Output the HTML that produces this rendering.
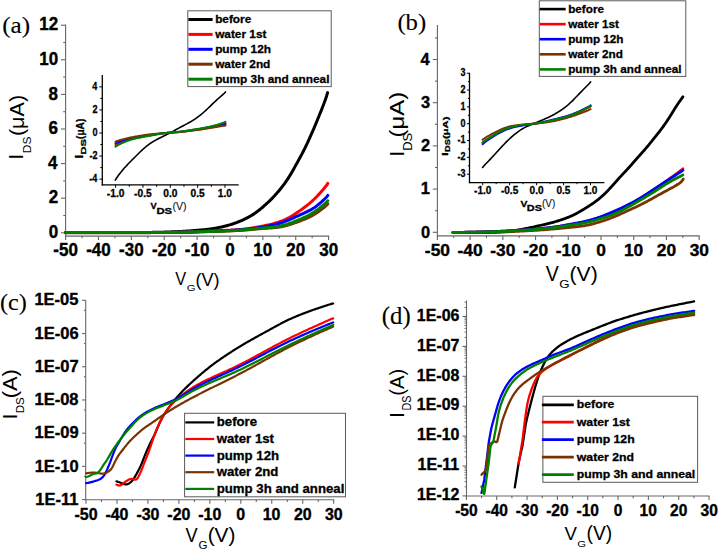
<!DOCTYPE html>
<html><head><meta charset="utf-8"><style>
html,body{margin:0;padding:0;background:#fff;width:718px;height:549px;overflow:hidden}
svg{display:block}
</style></head><body>
<svg width="718" height="549" viewBox="0 0 718 549">
<rect width="718" height="549" fill="#fff"/>
<line x1="65.6" y1="24.6" x2="65.6" y2="236.6" stroke="#666666" stroke-width="1.1"/>
<line x1="65.1" y1="236.1" x2="329.1" y2="236.1" stroke="#666666" stroke-width="1.1"/>
<line x1="61" y1="232.8" x2="65.6" y2="232.8" stroke="#666666" stroke-width="1.1"/>
<line x1="63.2" y1="215.5" x2="65.6" y2="215.5" stroke="#666666" stroke-width="1.1"/>
<line x1="61" y1="198.2" x2="65.6" y2="198.2" stroke="#666666" stroke-width="1.1"/>
<line x1="63.2" y1="180.9" x2="65.6" y2="180.9" stroke="#666666" stroke-width="1.1"/>
<line x1="61" y1="163.6" x2="65.6" y2="163.6" stroke="#666666" stroke-width="1.1"/>
<line x1="63.2" y1="146.3" x2="65.6" y2="146.3" stroke="#666666" stroke-width="1.1"/>
<line x1="61" y1="129" x2="65.6" y2="129" stroke="#666666" stroke-width="1.1"/>
<line x1="63.2" y1="111.7" x2="65.6" y2="111.7" stroke="#666666" stroke-width="1.1"/>
<line x1="61" y1="94.4" x2="65.6" y2="94.4" stroke="#666666" stroke-width="1.1"/>
<line x1="63.2" y1="77.1" x2="65.6" y2="77.1" stroke="#666666" stroke-width="1.1"/>
<line x1="61" y1="59.8" x2="65.6" y2="59.8" stroke="#666666" stroke-width="1.1"/>
<line x1="63.2" y1="42.5" x2="65.6" y2="42.5" stroke="#666666" stroke-width="1.1"/>
<line x1="61" y1="25.2" x2="65.6" y2="25.2" stroke="#666666" stroke-width="1.1"/>
<line x1="65.6" y1="236.1" x2="65.6" y2="240.1" stroke="#666666" stroke-width="1.1"/>
<line x1="82.04" y1="236.1" x2="82.04" y2="238.3" stroke="#666666" stroke-width="1.1"/>
<line x1="98.47" y1="236.1" x2="98.47" y2="240.1" stroke="#666666" stroke-width="1.1"/>
<line x1="114.91" y1="236.1" x2="114.91" y2="238.3" stroke="#666666" stroke-width="1.1"/>
<line x1="131.35" y1="236.1" x2="131.35" y2="240.1" stroke="#666666" stroke-width="1.1"/>
<line x1="147.79" y1="236.1" x2="147.79" y2="238.3" stroke="#666666" stroke-width="1.1"/>
<line x1="164.22" y1="236.1" x2="164.22" y2="240.1" stroke="#666666" stroke-width="1.1"/>
<line x1="180.66" y1="236.1" x2="180.66" y2="238.3" stroke="#666666" stroke-width="1.1"/>
<line x1="197.1" y1="236.1" x2="197.1" y2="240.1" stroke="#666666" stroke-width="1.1"/>
<line x1="213.54" y1="236.1" x2="213.54" y2="238.3" stroke="#666666" stroke-width="1.1"/>
<line x1="229.97" y1="236.1" x2="229.97" y2="240.1" stroke="#666666" stroke-width="1.1"/>
<line x1="246.41" y1="236.1" x2="246.41" y2="238.3" stroke="#666666" stroke-width="1.1"/>
<line x1="262.85" y1="236.1" x2="262.85" y2="240.1" stroke="#666666" stroke-width="1.1"/>
<line x1="279.29" y1="236.1" x2="279.29" y2="238.3" stroke="#666666" stroke-width="1.1"/>
<line x1="295.73" y1="236.1" x2="295.73" y2="240.1" stroke="#666666" stroke-width="1.1"/>
<line x1="312.16" y1="236.1" x2="312.16" y2="238.3" stroke="#666666" stroke-width="1.1"/>
<line x1="328.6" y1="236.1" x2="328.6" y2="240.1" stroke="#666666" stroke-width="1.1"/>
<text transform="translate(53.32,256.26) scale(0.9550,1)" font-family='"Liberation Sans", sans-serif' font-weight="bold" font-size="17.8" fill="#000" stroke="#000" stroke-width="0.39" stroke-linejoin="round">-50</text>
<text transform="translate(86.19,256.26) scale(0.9550,1)" font-family='"Liberation Sans", sans-serif' font-weight="bold" font-size="17.8" fill="#000" stroke="#000" stroke-width="0.39" stroke-linejoin="round">-40</text>
<text transform="translate(119.07,256.26) scale(0.9550,1)" font-family='"Liberation Sans", sans-serif' font-weight="bold" font-size="17.8" fill="#000" stroke="#000" stroke-width="0.39" stroke-linejoin="round">-30</text>
<text transform="translate(151.94,256.26) scale(0.9550,1)" font-family='"Liberation Sans", sans-serif' font-weight="bold" font-size="17.8" fill="#000" stroke="#000" stroke-width="0.39" stroke-linejoin="round">-20</text>
<text transform="translate(184.82,256.26) scale(0.9550,1)" font-family='"Liberation Sans", sans-serif' font-weight="bold" font-size="17.8" fill="#000" stroke="#000" stroke-width="0.39" stroke-linejoin="round">-10</text>
<text transform="translate(225.26,256.26) scale(0.9550,1)" font-family='"Liberation Sans", sans-serif' font-weight="bold" font-size="17.8" fill="#000" stroke="#000" stroke-width="0.39" stroke-linejoin="round">0</text>
<text transform="translate(253.25,256.26) scale(0.9550,1)" font-family='"Liberation Sans", sans-serif' font-weight="bold" font-size="17.8" fill="#000" stroke="#000" stroke-width="0.39" stroke-linejoin="round">10</text>
<text transform="translate(286.33,256.26) scale(0.9550,1)" font-family='"Liberation Sans", sans-serif' font-weight="bold" font-size="17.8" fill="#000" stroke="#000" stroke-width="0.39" stroke-linejoin="round">20</text>
<text transform="translate(319.29,256.26) scale(0.9550,1)" font-family='"Liberation Sans", sans-serif' font-weight="bold" font-size="17.8" fill="#000" stroke="#000" stroke-width="0.39" stroke-linejoin="round">30</text>
<text transform="translate(48.65,237.94) scale(0.9550,1)" font-family='"Liberation Sans", sans-serif' font-weight="bold" font-size="17.8" fill="#000" stroke="#000" stroke-width="0.39" stroke-linejoin="round">0</text>
<text transform="translate(48.65,203.43) scale(0.9550,1)" font-family='"Liberation Sans", sans-serif' font-weight="bold" font-size="17.8" fill="#000" stroke="#000" stroke-width="0.39" stroke-linejoin="round">2</text>
<text transform="translate(48.05,168.74) scale(0.9550,1)" font-family='"Liberation Sans", sans-serif' font-weight="bold" font-size="17.8" fill="#000" stroke="#000" stroke-width="0.39" stroke-linejoin="round">4</text>
<text transform="translate(48.56,134.14) scale(0.9550,1)" font-family='"Liberation Sans", sans-serif' font-weight="bold" font-size="17.8" fill="#000" stroke="#000" stroke-width="0.39" stroke-linejoin="round">6</text>
<text transform="translate(48.48,99.54) scale(0.9550,1)" font-family='"Liberation Sans", sans-serif' font-weight="bold" font-size="17.8" fill="#000" stroke="#000" stroke-width="0.39" stroke-linejoin="round">8</text>
<text transform="translate(39.21,64.94) scale(0.9550,1)" font-family='"Liberation Sans", sans-serif' font-weight="bold" font-size="17.8" fill="#000" stroke="#000" stroke-width="0.39" stroke-linejoin="round">10</text>
<text transform="translate(39.21,30.43) scale(0.9550,1)" font-family='"Liberation Sans", sans-serif' font-weight="bold" font-size="17.8" fill="#000" stroke="#000" stroke-width="0.39" stroke-linejoin="round">12</text>
<text transform="translate(2.17,32.87) scale(1.0765,1)" font-family='"Liberation Serif", serif' font-weight="normal" font-size="23.41" fill="#000" stroke="#000" stroke-width="0.12" stroke-linejoin="round">(a)</text>
<text transform="translate(23.3,159.69) rotate(-90) scale(1.0376,1)" font-family='"Liberation Sans", sans-serif' font-weight="normal" font-size="20.29" fill="#000">I</text>
<text transform="translate(30.8,153.26) rotate(-90) scale(1.1656,1)" font-family='"Liberation Sans", sans-serif' font-weight="normal" font-size="10.28" fill="#000">DS</text>
<text transform="translate(23.69,136.09) rotate(-90) scale(1.0503,1)" font-family='"Liberation Sans", sans-serif' font-weight="normal" font-size="20.53" fill="#000">(μA)</text>
<text transform="translate(175.22,285.3) scale(0.9017,1)" font-family='"Liberation Sans", sans-serif' font-weight="normal" font-size="18.12" fill="#000">V</text>
<text transform="translate(186.84,290.71) scale(1.2154,1)" font-family='"Liberation Sans", sans-serif' font-weight="normal" font-size="9.3" fill="#000">G</text>
<text transform="translate(195.41,285.56) scale(0.9896,1)" font-family='"Liberation Sans", sans-serif' font-weight="normal" font-size="18.29" fill="#000">(V)</text>
<path d="M65.6,232.6 L66.6,232.6 L67.6,232.6 L68.6,232.6 L69.6,232.6 L70.6,232.6 L71.6,232.6 L72.6,232.6 L73.6,232.6 L74.6,232.6 L75.6,232.6 L76.6,232.6 L77.6,232.6 L78.6,232.6 L79.6,232.59 L80.6,232.59 L81.6,232.59 L82.6,232.59 L83.6,232.59 L84.6,232.59 L85.6,232.59 L86.6,232.59 L87.6,232.59 L88.6,232.59 L89.6,232.58 L90.6,232.58 L91.6,232.58 L92.6,232.58 L93.6,232.58 L94.6,232.58 L95.6,232.58 L96.6,232.57 L97.6,232.57 L98.6,232.57 L99.6,232.57 L100.6,232.57 L101.6,232.57 L102.6,232.56 L103.6,232.56 L104.6,232.56 L105.6,232.56 L106.6,232.56 L107.6,232.55 L108.6,232.55 L109.6,232.55 L110.6,232.55 L111.6,232.54 L112.6,232.54 L113.6,232.54 L114.6,232.54 L115.6,232.53 L116.6,232.53 L117.6,232.53 L118.6,232.52 L119.6,232.52 L120.6,232.52 L121.6,232.52 L122.6,232.51 L123.6,232.51 L124.6,232.51 L125.6,232.5 L126.6,232.5 L127.6,232.5 L128.6,232.49 L129.6,232.49 L130.6,232.48 L131.6,232.48 L132.6,232.48 L133.6,232.47 L134.6,232.47 L135.6,232.47 L136.6,232.46 L137.6,232.46 L138.6,232.45 L139.6,232.45 L140.6,232.44 L141.6,232.44 L142.6,232.43 L143.6,232.43 L144.6,232.43 L145.6,232.42 L146.6,232.41 L147.6,232.41 L148.6,232.4 L149.6,232.39 L150.6,232.39 L151.6,232.38 L152.6,232.37 L153.6,232.35 L154.6,232.34 L155.6,232.32 L156.6,232.31 L157.6,232.29 L158.6,232.27 L159.6,232.24 L160.6,232.22 L161.6,232.19 L162.6,232.17 L163.6,232.14 L164.6,232.11 L165.6,232.08 L166.6,232.05 L167.6,232.01 L168.6,231.98 L169.6,231.94 L170.6,231.9 L171.6,231.87 L172.6,231.83 L173.6,231.79 L174.6,231.75 L175.6,231.71 L176.6,231.66 L177.6,231.62 L178.6,231.58 L179.6,231.53 L180.6,231.48 L181.6,231.43 L182.6,231.37 L183.6,231.32 L184.6,231.25 L185.6,231.19 L186.6,231.12 L187.6,231.06 L188.6,230.98 L189.6,230.91 L190.6,230.83 L191.6,230.75 L192.6,230.67 L193.6,230.59 L194.6,230.51 L195.6,230.43 L196.6,230.35 L197.6,230.26 L198.6,230.18 L199.6,230.09 L200.6,230 L201.6,229.91 L202.6,229.82 L203.6,229.72 L204.6,229.62 L205.6,229.52 L206.6,229.41 L207.6,229.3 L208.6,229.18 L209.6,229.06 L210.6,228.93 L211.6,228.79 L212.6,228.65 L213.6,228.49 L214.6,228.33 L215.6,228.16 L216.6,227.98 L217.6,227.79 L218.6,227.59 L219.6,227.39 L220.6,227.17 L221.6,226.95 L222.6,226.72 L223.6,226.49 L224.6,226.24 L225.6,225.99 L226.6,225.73 L227.6,225.46 L228.6,225.18 L229.6,224.89 L230.6,224.58 L231.6,224.27 L232.6,223.95 L233.6,223.61 L234.6,223.27 L235.6,222.91 L236.6,222.54 L237.6,222.16 L238.6,221.77 L239.6,221.37 L240.6,220.95 L241.6,220.52 L242.6,220.08 L243.6,219.62 L244.6,219.15 L245.6,218.66 L246.6,218.16 L247.6,217.64 L248.6,217.1 L249.6,216.54 L250.6,215.97 L251.6,215.38 L252.6,214.76 L253.6,214.12 L254.6,213.46 L255.6,212.78 L256.6,212.06 L257.6,211.32 L258.6,210.56 L259.6,209.76 L260.6,208.94 L261.6,208.1 L262.6,207.24 L263.6,206.37 L264.6,205.48 L265.6,204.58 L266.6,203.67 L267.6,202.74 L268.6,201.8 L269.6,200.84 L270.6,199.86 L271.6,198.86 L272.6,197.84 L273.6,196.79 L274.6,195.71 L275.6,194.61 L276.6,193.49 L277.6,192.34 L278.6,191.16 L279.6,189.97 L280.6,188.74 L281.6,187.49 L282.6,186.2 L283.6,184.88 L284.6,183.52 L285.6,182.11 L286.6,180.66 L287.6,179.16 L288.6,177.61 L289.6,176 L290.6,174.36 L291.6,172.66 L292.6,170.93 L293.6,169.16 L294.6,167.38 L295.6,165.57 L296.6,163.76 L297.6,161.94 L298.6,160.12 L299.6,158.3 L300.6,156.47 L301.6,154.61 L302.6,152.72 L303.6,150.79 L304.6,148.81 L305.6,146.78 L306.6,144.69 L307.6,142.56 L308.6,140.38 L309.6,138.17 L310.6,135.93 L311.6,133.66 L312.6,131.37 L313.6,129.06 L314.6,126.71 L315.6,124.34 L316.6,121.93 L317.6,119.49 L318.6,117.02 L319.6,114.56 L320.6,112.07 L321.6,109.57 L322.6,107.03 L323.6,104.45 L324.6,101.78 L325.6,98.96 L326.6,95.93 L327.6,92.6" fill="none" stroke="#000000" stroke-width="3" stroke-linejoin="round" stroke-linecap="round"/>
<path d="M65.6,232.6 L66.6,232.6 L67.6,232.6 L68.6,232.6 L69.6,232.6 L70.6,232.6 L71.6,232.6 L72.6,232.6 L73.6,232.6 L74.6,232.6 L75.6,232.6 L76.6,232.6 L77.6,232.6 L78.6,232.6 L79.6,232.6 L80.6,232.6 L81.6,232.6 L82.6,232.6 L83.6,232.6 L84.6,232.6 L85.6,232.6 L86.6,232.6 L87.6,232.6 L88.6,232.6 L89.6,232.59 L90.6,232.59 L91.6,232.59 L92.6,232.59 L93.6,232.59 L94.6,232.59 L95.6,232.59 L96.6,232.59 L97.6,232.59 L98.6,232.59 L99.6,232.59 L100.6,232.59 L101.6,232.59 L102.6,232.59 L103.6,232.59 L104.6,232.59 L105.6,232.59 L106.6,232.58 L107.6,232.58 L108.6,232.58 L109.6,232.58 L110.6,232.58 L111.6,232.58 L112.6,232.58 L113.6,232.58 L114.6,232.58 L115.6,232.58 L116.6,232.58 L117.6,232.57 L118.6,232.57 L119.6,232.57 L120.6,232.57 L121.6,232.57 L122.6,232.57 L123.6,232.57 L124.6,232.57 L125.6,232.57 L126.6,232.56 L127.6,232.56 L128.6,232.56 L129.6,232.56 L130.6,232.56 L131.6,232.56 L132.6,232.56 L133.6,232.55 L134.6,232.55 L135.6,232.55 L136.6,232.55 L137.6,232.55 L138.6,232.55 L139.6,232.55 L140.6,232.54 L141.6,232.54 L142.6,232.54 L143.6,232.54 L144.6,232.54 L145.6,232.54 L146.6,232.53 L147.6,232.53 L148.6,232.53 L149.6,232.53 L150.6,232.53 L151.6,232.53 L152.6,232.52 L153.6,232.52 L154.6,232.52 L155.6,232.52 L156.6,232.52 L157.6,232.51 L158.6,232.51 L159.6,232.51 L160.6,232.51 L161.6,232.5 L162.6,232.5 L163.6,232.49 L164.6,232.49 L165.6,232.48 L166.6,232.47 L167.6,232.46 L168.6,232.45 L169.6,232.44 L170.6,232.43 L171.6,232.41 L172.6,232.39 L173.6,232.38 L174.6,232.36 L175.6,232.33 L176.6,232.31 L177.6,232.29 L178.6,232.26 L179.6,232.23 L180.6,232.2 L181.6,232.17 L182.6,232.14 L183.6,232.11 L184.6,232.08 L185.6,232.04 L186.6,232.01 L187.6,231.97 L188.6,231.93 L189.6,231.9 L190.6,231.86 L191.6,231.82 L192.6,231.78 L193.6,231.74 L194.6,231.7 L195.6,231.66 L196.6,231.62 L197.6,231.57 L198.6,231.53 L199.6,231.49 L200.6,231.45 L201.6,231.41 L202.6,231.36 L203.6,231.32 L204.6,231.28 L205.6,231.24 L206.6,231.2 L207.6,231.15 L208.6,231.11 L209.6,231.07 L210.6,231.03 L211.6,230.99 L212.6,230.95 L213.6,230.91 L214.6,230.87 L215.6,230.83 L216.6,230.79 L217.6,230.75 L218.6,230.7 L219.6,230.66 L220.6,230.62 L221.6,230.58 L222.6,230.53 L223.6,230.49 L224.6,230.44 L225.6,230.4 L226.6,230.35 L227.6,230.3 L228.6,230.25 L229.6,230.2 L230.6,230.14 L231.6,230.08 L232.6,230.03 L233.6,229.97 L234.6,229.9 L235.6,229.84 L236.6,229.77 L237.6,229.7 L238.6,229.62 L239.6,229.54 L240.6,229.46 L241.6,229.37 L242.6,229.27 L243.6,229.17 L244.6,229.05 L245.6,228.93 L246.6,228.81 L247.6,228.67 L248.6,228.53 L249.6,228.38 L250.6,228.22 L251.6,228.06 L252.6,227.9 L253.6,227.73 L254.6,227.56 L255.6,227.39 L256.6,227.21 L257.6,227.04 L258.6,226.86 L259.6,226.67 L260.6,226.49 L261.6,226.3 L262.6,226.11 L263.6,225.91 L264.6,225.71 L265.6,225.5 L266.6,225.28 L267.6,225.06 L268.6,224.84 L269.6,224.6 L270.6,224.36 L271.6,224.11 L272.6,223.85 L273.6,223.58 L274.6,223.3 L275.6,223.01 L276.6,222.7 L277.6,222.39 L278.6,222.07 L279.6,221.73 L280.6,221.38 L281.6,221.01 L282.6,220.63 L283.6,220.22 L284.6,219.8 L285.6,219.36 L286.6,218.89 L287.6,218.4 L288.6,217.88 L289.6,217.34 L290.6,216.77 L291.6,216.18 L292.6,215.56 L293.6,214.93 L294.6,214.28 L295.6,213.62 L296.6,212.94 L297.6,212.25 L298.6,211.56 L299.6,210.86 L300.6,210.15 L301.6,209.44 L302.6,208.71 L303.6,207.98 L304.6,207.24 L305.6,206.49 L306.6,205.72 L307.6,204.93 L308.6,204.13 L309.6,203.3 L310.6,202.45 L311.6,201.58 L312.6,200.67 L313.6,199.74 L314.6,198.77 L315.6,197.78 L316.6,196.75 L317.6,195.69 L318.6,194.61 L319.6,193.5 L320.6,192.4 L321.6,191.28 L322.6,190.14 L323.6,188.99 L324.6,187.79 L325.6,186.55 L326.6,185.23 L327.6,183.79 L327.8,183.3" fill="none" stroke="#ff0000" stroke-width="3" stroke-linejoin="round" stroke-linecap="round"/>
<path d="M65.6,232.6 L66.6,232.6 L67.6,232.6 L68.6,232.6 L69.6,232.6 L70.6,232.6 L71.6,232.6 L72.6,232.6 L73.6,232.6 L74.6,232.6 L75.6,232.6 L76.6,232.6 L77.6,232.6 L78.6,232.6 L79.6,232.6 L80.6,232.6 L81.6,232.6 L82.6,232.6 L83.6,232.6 L84.6,232.6 L85.6,232.6 L86.6,232.6 L87.6,232.6 L88.6,232.6 L89.6,232.59 L90.6,232.59 L91.6,232.59 L92.6,232.59 L93.6,232.59 L94.6,232.59 L95.6,232.59 L96.6,232.59 L97.6,232.59 L98.6,232.59 L99.6,232.59 L100.6,232.59 L101.6,232.59 L102.6,232.59 L103.6,232.59 L104.6,232.59 L105.6,232.58 L106.6,232.58 L107.6,232.58 L108.6,232.58 L109.6,232.58 L110.6,232.58 L111.6,232.58 L112.6,232.58 L113.6,232.58 L114.6,232.58 L115.6,232.58 L116.6,232.58 L117.6,232.57 L118.6,232.57 L119.6,232.57 L120.6,232.57 L121.6,232.57 L122.6,232.57 L123.6,232.57 L124.6,232.57 L125.6,232.57 L126.6,232.56 L127.6,232.56 L128.6,232.56 L129.6,232.56 L130.6,232.56 L131.6,232.56 L132.6,232.56 L133.6,232.55 L134.6,232.55 L135.6,232.55 L136.6,232.55 L137.6,232.55 L138.6,232.55 L139.6,232.55 L140.6,232.54 L141.6,232.54 L142.6,232.54 L143.6,232.54 L144.6,232.54 L145.6,232.54 L146.6,232.53 L147.6,232.53 L148.6,232.53 L149.6,232.53 L150.6,232.53 L151.6,232.52 L152.6,232.52 L153.6,232.52 L154.6,232.52 L155.6,232.52 L156.6,232.52 L157.6,232.51 L158.6,232.51 L159.6,232.51 L160.6,232.51 L161.6,232.5 L162.6,232.5 L163.6,232.5 L164.6,232.49 L165.6,232.48 L166.6,232.48 L167.6,232.47 L168.6,232.46 L169.6,232.45 L170.6,232.44 L171.6,232.42 L172.6,232.41 L173.6,232.39 L174.6,232.38 L175.6,232.36 L176.6,232.34 L177.6,232.32 L178.6,232.29 L179.6,232.27 L180.6,232.24 L181.6,232.22 L182.6,232.19 L183.6,232.16 L184.6,232.14 L185.6,232.11 L186.6,232.08 L187.6,232.05 L188.6,232.01 L189.6,231.98 L190.6,231.95 L191.6,231.91 L192.6,231.88 L193.6,231.85 L194.6,231.81 L195.6,231.78 L196.6,231.74 L197.6,231.7 L198.6,231.67 L199.6,231.63 L200.6,231.59 L201.6,231.56 L202.6,231.52 L203.6,231.48 L204.6,231.45 L205.6,231.41 L206.6,231.37 L207.6,231.34 L208.6,231.3 L209.6,231.26 L210.6,231.23 L211.6,231.19 L212.6,231.15 L213.6,231.11 L214.6,231.08 L215.6,231.04 L216.6,231 L217.6,230.96 L218.6,230.92 L219.6,230.88 L220.6,230.84 L221.6,230.8 L222.6,230.76 L223.6,230.72 L224.6,230.67 L225.6,230.63 L226.6,230.58 L227.6,230.53 L228.6,230.48 L229.6,230.43 L230.6,230.38 L231.6,230.33 L232.6,230.27 L233.6,230.22 L234.6,230.16 L235.6,230.1 L236.6,230.04 L237.6,229.97 L238.6,229.91 L239.6,229.84 L240.6,229.76 L241.6,229.69 L242.6,229.61 L243.6,229.52 L244.6,229.43 L245.6,229.34 L246.6,229.24 L247.6,229.13 L248.6,229.02 L249.6,228.9 L250.6,228.78 L251.6,228.66 L252.6,228.53 L253.6,228.4 L254.6,228.26 L255.6,228.12 L256.6,227.98 L257.6,227.83 L258.6,227.68 L259.6,227.52 L260.6,227.36 L261.6,227.2 L262.6,227.03 L263.6,226.86 L264.6,226.69 L265.6,226.51 L266.6,226.32 L267.6,226.13 L268.6,225.93 L269.6,225.72 L270.6,225.51 L271.6,225.3 L272.6,225.08 L273.6,224.85 L274.6,224.61 L275.6,224.36 L276.6,224.1 L277.6,223.84 L278.6,223.56 L279.6,223.27 L280.6,222.96 L281.6,222.65 L282.6,222.31 L283.6,221.96 L284.6,221.6 L285.6,221.22 L286.6,220.83 L287.6,220.43 L288.6,220.01 L289.6,219.59 L290.6,219.15 L291.6,218.71 L292.6,218.27 L293.6,217.82 L294.6,217.37 L295.6,216.92 L296.6,216.46 L297.6,216.01 L298.6,215.56 L299.6,215.11 L300.6,214.67 L301.6,214.22 L302.6,213.78 L303.6,213.33 L304.6,212.88 L305.6,212.42 L306.6,211.95 L307.6,211.46 L308.6,210.96 L309.6,210.44 L310.6,209.9 L311.6,209.33 L312.6,208.72 L313.6,208.09 L314.6,207.42 L315.6,206.71 L316.6,205.96 L317.6,205.18 L318.6,204.36 L319.6,203.51 L320.6,202.67 L321.6,201.79 L322.6,200.89 L323.6,199.97 L324.6,199 L325.6,197.99 L326.6,196.9 L327.6,195.71 L327.8,195.3" fill="none" stroke="#0000ff" stroke-width="3" stroke-linejoin="round" stroke-linecap="round"/>
<path d="M65.6,232.7 L66.6,232.7 L67.6,232.7 L68.6,232.7 L69.6,232.7 L70.6,232.7 L71.6,232.7 L72.6,232.7 L73.6,232.7 L74.6,232.7 L75.6,232.7 L76.6,232.7 L77.6,232.7 L78.6,232.7 L79.6,232.7 L80.6,232.7 L81.6,232.7 L82.6,232.7 L83.6,232.7 L84.6,232.7 L85.6,232.7 L86.6,232.7 L87.6,232.7 L88.6,232.69 L89.6,232.69 L90.6,232.69 L91.6,232.69 L92.6,232.69 L93.6,232.69 L94.6,232.69 L95.6,232.69 L96.6,232.69 L97.6,232.69 L98.6,232.69 L99.6,232.69 L100.6,232.69 L101.6,232.69 L102.6,232.69 L103.6,232.69 L104.6,232.69 L105.6,232.68 L106.6,232.68 L107.6,232.68 L108.6,232.68 L109.6,232.68 L110.6,232.68 L111.6,232.68 L112.6,232.68 L113.6,232.68 L114.6,232.68 L115.6,232.68 L116.6,232.67 L117.6,232.67 L118.6,232.67 L119.6,232.67 L120.6,232.67 L121.6,232.67 L122.6,232.67 L123.6,232.67 L124.6,232.67 L125.6,232.66 L126.6,232.66 L127.6,232.66 L128.6,232.66 L129.6,232.66 L130.6,232.66 L131.6,232.66 L132.6,232.66 L133.6,232.65 L134.6,232.65 L135.6,232.65 L136.6,232.65 L137.6,232.65 L138.6,232.65 L139.6,232.65 L140.6,232.64 L141.6,232.64 L142.6,232.64 L143.6,232.64 L144.6,232.64 L145.6,232.64 L146.6,232.63 L147.6,232.63 L148.6,232.63 L149.6,232.63 L150.6,232.63 L151.6,232.62 L152.6,232.62 L153.6,232.62 L154.6,232.62 L155.6,232.62 L156.6,232.62 L157.6,232.61 L158.6,232.61 L159.6,232.61 L160.6,232.61 L161.6,232.6 L162.6,232.6 L163.6,232.6 L164.6,232.59 L165.6,232.59 L166.6,232.58 L167.6,232.57 L168.6,232.56 L169.6,232.56 L170.6,232.54 L171.6,232.53 L172.6,232.52 L173.6,232.51 L174.6,232.49 L175.6,232.47 L176.6,232.46 L177.6,232.44 L178.6,232.42 L179.6,232.4 L180.6,232.38 L181.6,232.36 L182.6,232.33 L183.6,232.31 L184.6,232.29 L185.6,232.26 L186.6,232.24 L187.6,232.21 L188.6,232.18 L189.6,232.16 L190.6,232.13 L191.6,232.1 L192.6,232.07 L193.6,232.04 L194.6,232.01 L195.6,231.98 L196.6,231.95 L197.6,231.92 L198.6,231.89 L199.6,231.86 L200.6,231.83 L201.6,231.8 L202.6,231.77 L203.6,231.74 L204.6,231.71 L205.6,231.67 L206.6,231.64 L207.6,231.61 L208.6,231.58 L209.6,231.55 L210.6,231.52 L211.6,231.49 L212.6,231.46 L213.6,231.43 L214.6,231.4 L215.6,231.37 L216.6,231.34 L217.6,231.31 L218.6,231.27 L219.6,231.24 L220.6,231.21 L221.6,231.18 L222.6,231.14 L223.6,231.11 L224.6,231.07 L225.6,231.04 L226.6,231 L227.6,230.96 L228.6,230.92 L229.6,230.88 L230.6,230.84 L231.6,230.8 L232.6,230.75 L233.6,230.71 L234.6,230.66 L235.6,230.62 L236.6,230.57 L237.6,230.52 L238.6,230.46 L239.6,230.41 L240.6,230.35 L241.6,230.28 L242.6,230.22 L243.6,230.15 L244.6,230.07 L245.6,229.99 L246.6,229.91 L247.6,229.82 L248.6,229.73 L249.6,229.64 L250.6,229.54 L251.6,229.45 L252.6,229.35 L253.6,229.26 L254.6,229.17 L255.6,229.08 L256.6,228.99 L257.6,228.91 L258.6,228.83 L259.6,228.75 L260.6,228.67 L261.6,228.6 L262.6,228.53 L263.6,228.46 L264.6,228.39 L265.6,228.32 L266.6,228.26 L267.6,228.19 L268.6,228.12 L269.6,228.05 L270.6,227.97 L271.6,227.9 L272.6,227.81 L273.6,227.72 L274.6,227.63 L275.6,227.53 L276.6,227.42 L277.6,227.29 L278.6,227.16 L279.6,227.01 L280.6,226.85 L281.6,226.67 L282.6,226.47 L283.6,226.26 L284.6,226.02 L285.6,225.77 L286.6,225.51 L287.6,225.23 L288.6,224.93 L289.6,224.62 L290.6,224.31 L291.6,223.98 L292.6,223.64 L293.6,223.29 L294.6,222.94 L295.6,222.59 L296.6,222.23 L297.6,221.86 L298.6,221.49 L299.6,221.12 L300.6,220.74 L301.6,220.36 L302.6,219.97 L303.6,219.57 L304.6,219.17 L305.6,218.75 L306.6,218.31 L307.6,217.87 L308.6,217.4 L309.6,216.92 L310.6,216.42 L311.6,215.9 L312.6,215.35 L313.6,214.78 L314.6,214.18 L315.6,213.56 L316.6,212.91 L317.6,212.23 L318.6,211.53 L319.6,210.8 L320.6,210.08 L321.6,209.34 L322.6,208.58 L323.6,207.8 L324.6,206.99 L325.6,206.14 L326.6,205.23 L327.6,204.24 L327.8,203.9" fill="none" stroke="#7a3300" stroke-width="3" stroke-linejoin="round" stroke-linecap="round"/>
<path d="M65.6,232.6 L66.6,232.6 L67.6,232.6 L68.6,232.6 L69.6,232.6 L70.6,232.6 L71.6,232.6 L72.6,232.6 L73.6,232.6 L74.6,232.6 L75.6,232.6 L76.6,232.6 L77.6,232.6 L78.6,232.6 L79.6,232.6 L80.6,232.6 L81.6,232.6 L82.6,232.6 L83.6,232.6 L84.6,232.6 L85.6,232.6 L86.6,232.6 L87.6,232.6 L88.6,232.59 L89.6,232.59 L90.6,232.59 L91.6,232.59 L92.6,232.59 L93.6,232.59 L94.6,232.59 L95.6,232.59 L96.6,232.59 L97.6,232.59 L98.6,232.59 L99.6,232.59 L100.6,232.59 L101.6,232.59 L102.6,232.59 L103.6,232.59 L104.6,232.59 L105.6,232.58 L106.6,232.58 L107.6,232.58 L108.6,232.58 L109.6,232.58 L110.6,232.58 L111.6,232.58 L112.6,232.58 L113.6,232.58 L114.6,232.58 L115.6,232.58 L116.6,232.57 L117.6,232.57 L118.6,232.57 L119.6,232.57 L120.6,232.57 L121.6,232.57 L122.6,232.57 L123.6,232.57 L124.6,232.57 L125.6,232.56 L126.6,232.56 L127.6,232.56 L128.6,232.56 L129.6,232.56 L130.6,232.56 L131.6,232.56 L132.6,232.56 L133.6,232.55 L134.6,232.55 L135.6,232.55 L136.6,232.55 L137.6,232.55 L138.6,232.55 L139.6,232.55 L140.6,232.54 L141.6,232.54 L142.6,232.54 L143.6,232.54 L144.6,232.54 L145.6,232.54 L146.6,232.53 L147.6,232.53 L148.6,232.53 L149.6,232.53 L150.6,232.53 L151.6,232.52 L152.6,232.52 L153.6,232.52 L154.6,232.52 L155.6,232.52 L156.6,232.52 L157.6,232.51 L158.6,232.51 L159.6,232.51 L160.6,232.51 L161.6,232.5 L162.6,232.5 L163.6,232.5 L164.6,232.49 L165.6,232.49 L166.6,232.48 L167.6,232.47 L168.6,232.47 L169.6,232.46 L170.6,232.45 L171.6,232.43 L172.6,232.42 L173.6,232.41 L174.6,232.39 L175.6,232.38 L176.6,232.36 L177.6,232.34 L178.6,232.32 L179.6,232.3 L180.6,232.28 L181.6,232.26 L182.6,232.24 L183.6,232.22 L184.6,232.19 L185.6,232.17 L186.6,232.14 L187.6,232.12 L188.6,232.09 L189.6,232.06 L190.6,232.03 L191.6,232.01 L192.6,231.98 L193.6,231.95 L194.6,231.92 L195.6,231.89 L196.6,231.86 L197.6,231.83 L198.6,231.8 L199.6,231.77 L200.6,231.73 L201.6,231.7 L202.6,231.67 L203.6,231.64 L204.6,231.61 L205.6,231.58 L206.6,231.55 L207.6,231.52 L208.6,231.48 L209.6,231.45 L210.6,231.42 L211.6,231.39 L212.6,231.36 L213.6,231.33 L214.6,231.29 L215.6,231.26 L216.6,231.23 L217.6,231.2 L218.6,231.16 L219.6,231.13 L220.6,231.09 L221.6,231.06 L222.6,231.02 L223.6,230.98 L224.6,230.95 L225.6,230.91 L226.6,230.87 L227.6,230.82 L228.6,230.78 L229.6,230.74 L230.6,230.69 L231.6,230.65 L232.6,230.6 L233.6,230.55 L234.6,230.5 L235.6,230.45 L236.6,230.39 L237.6,230.34 L238.6,230.28 L239.6,230.22 L240.6,230.15 L241.6,230.08 L242.6,230.01 L243.6,229.93 L244.6,229.84 L245.6,229.75 L246.6,229.66 L247.6,229.56 L248.6,229.46 L249.6,229.35 L250.6,229.24 L251.6,229.14 L252.6,229.03 L253.6,228.92 L254.6,228.81 L255.6,228.71 L256.6,228.6 L257.6,228.5 L258.6,228.41 L259.6,228.31 L260.6,228.22 L261.6,228.13 L262.6,228.05 L263.6,227.96 L264.6,227.88 L265.6,227.79 L266.6,227.71 L267.6,227.63 L268.6,227.54 L269.6,227.45 L270.6,227.36 L271.6,227.26 L272.6,227.16 L273.6,227.05 L274.6,226.93 L275.6,226.81 L276.6,226.67 L277.6,226.52 L278.6,226.36 L279.6,226.19 L280.6,225.99 L281.6,225.78 L282.6,225.55 L283.6,225.3 L284.6,225.03 L285.6,224.74 L286.6,224.44 L287.6,224.11 L288.6,223.77 L289.6,223.42 L290.6,223.06 L291.6,222.68 L292.6,222.3 L293.6,221.9 L294.6,221.51 L295.6,221.1 L296.6,220.69 L297.6,220.28 L298.6,219.86 L299.6,219.44 L300.6,219.01 L301.6,218.58 L302.6,218.14 L303.6,217.7 L304.6,217.24 L305.6,216.77 L306.6,216.28 L307.6,215.78 L308.6,215.27 L309.6,214.73 L310.6,214.18 L311.6,213.6 L312.6,213 L313.6,212.38 L314.6,211.72 L315.6,211.04 L316.6,210.34 L317.6,209.6 L318.6,208.85 L319.6,208.07 L320.6,207.29 L321.6,206.5 L322.6,205.68 L323.6,204.85 L324.6,203.98 L325.6,203.08 L326.6,202.12 L327.6,201.06 L327.8,200.7" fill="none" stroke="#008000" stroke-width="3" stroke-linejoin="round" stroke-linecap="round"/>
<line x1="102.3" y1="75" x2="102.3" y2="185.4" stroke="#000" stroke-width="1.3"/>
<line x1="101.7" y1="184.8" x2="238.7" y2="184.8" stroke="#000" stroke-width="1.3"/>
<line x1="99.3" y1="179.12" x2="102.3" y2="179.12" stroke="#000" stroke-width="1"/>
<line x1="100.3" y1="167.59" x2="102.3" y2="167.59" stroke="#000" stroke-width="1"/>
<line x1="99.3" y1="156.06" x2="102.3" y2="156.06" stroke="#000" stroke-width="1"/>
<line x1="100.3" y1="144.53" x2="102.3" y2="144.53" stroke="#000" stroke-width="1"/>
<line x1="99.3" y1="133" x2="102.3" y2="133" stroke="#000" stroke-width="1"/>
<line x1="100.3" y1="121.47" x2="102.3" y2="121.47" stroke="#000" stroke-width="1"/>
<line x1="99.3" y1="109.94" x2="102.3" y2="109.94" stroke="#000" stroke-width="1"/>
<line x1="100.3" y1="98.41" x2="102.3" y2="98.41" stroke="#000" stroke-width="1"/>
<line x1="99.3" y1="86.88" x2="102.3" y2="86.88" stroke="#000" stroke-width="1"/>
<line x1="115.6" y1="184.8" x2="115.6" y2="187.8" stroke="#000" stroke-width="1"/>
<line x1="129.28" y1="184.8" x2="129.28" y2="186.8" stroke="#000" stroke-width="1"/>
<line x1="142.95" y1="184.8" x2="142.95" y2="187.8" stroke="#000" stroke-width="1"/>
<line x1="156.62" y1="184.8" x2="156.62" y2="186.8" stroke="#000" stroke-width="1"/>
<line x1="170.3" y1="184.8" x2="170.3" y2="187.8" stroke="#000" stroke-width="1"/>
<line x1="183.98" y1="184.8" x2="183.98" y2="186.8" stroke="#000" stroke-width="1"/>
<line x1="197.65" y1="184.8" x2="197.65" y2="187.8" stroke="#000" stroke-width="1"/>
<line x1="211.33" y1="184.8" x2="211.33" y2="186.8" stroke="#000" stroke-width="1"/>
<line x1="225" y1="184.8" x2="225" y2="187.8" stroke="#000" stroke-width="1"/>
<text transform="translate(89.27,182.34) scale(0.8900,1)" font-family='"Liberation Sans", sans-serif' font-weight="bold" font-size="10.2" fill="#000" stroke="#000" stroke-width="0.3" stroke-linejoin="round">-4</text>
<text transform="translate(89.58,159.33) scale(0.8900,1)" font-family='"Liberation Sans", sans-serif' font-weight="bold" font-size="10.2" fill="#000" stroke="#000" stroke-width="0.3" stroke-linejoin="round">-2</text>
<text transform="translate(92.62,136.22) scale(0.8900,1)" font-family='"Liberation Sans", sans-serif' font-weight="bold" font-size="10.2" fill="#000" stroke="#000" stroke-width="0.3" stroke-linejoin="round">0</text>
<text transform="translate(92.62,113.21) scale(0.8900,1)" font-family='"Liberation Sans", sans-serif' font-weight="bold" font-size="10.2" fill="#000" stroke="#000" stroke-width="0.3" stroke-linejoin="round">2</text>
<text transform="translate(92.31,90.1) scale(0.8900,1)" font-family='"Liberation Sans", sans-serif' font-weight="bold" font-size="10.2" fill="#000" stroke="#000" stroke-width="0.3" stroke-linejoin="round">4</text>
<text transform="translate(106.83,196.68) scale(0.9800,1)" font-family='"Liberation Sans", sans-serif' font-weight="bold" font-size="10.4" fill="#000" stroke="#000" stroke-width="0.3" stroke-linejoin="round">-1.0</text>
<text transform="translate(134.11,196.68) scale(0.9800,1)" font-family='"Liberation Sans", sans-serif' font-weight="bold" font-size="10.4" fill="#000" stroke="#000" stroke-width="0.3" stroke-linejoin="round">-0.5</text>
<text transform="translate(163.22,196.68) scale(0.9800,1)" font-family='"Liberation Sans", sans-serif' font-weight="bold" font-size="10.4" fill="#000" stroke="#000" stroke-width="0.3" stroke-linejoin="round">0.0</text>
<text transform="translate(190.49,196.68) scale(0.9800,1)" font-family='"Liberation Sans", sans-serif' font-weight="bold" font-size="10.4" fill="#000" stroke="#000" stroke-width="0.3" stroke-linejoin="round">0.5</text>
<text transform="translate(217.81,196.68) scale(0.9800,1)" font-family='"Liberation Sans", sans-serif' font-weight="bold" font-size="10.4" fill="#000" stroke="#000" stroke-width="0.3" stroke-linejoin="round">1.0</text>
<text transform="translate(150.45,209.1) scale(1.0534,1)" font-family='"Liberation Sans", sans-serif' font-weight="bold" font-size="8.84" fill="#000" stroke="#000" stroke-width="0.3" stroke-linejoin="round">V</text>
<text transform="translate(156.47,213.61) scale(1.2326,1)" font-family='"Liberation Sans", sans-serif' font-weight="bold" font-size="9.15" fill="#000" stroke="#000" stroke-width="0.3" stroke-linejoin="round">DS</text>
<text transform="translate(172.47,209.97) scale(1.0411,1)" font-family='"Liberation Sans", sans-serif' font-weight="normal" font-size="10.16" fill="#000">(V)</text>
<text transform="translate(83.2,158.4) rotate(-90) scale(1.3218,1)" font-family='"Liberation Sans", sans-serif' font-weight="bold" font-size="10.43" fill="#000" stroke="#000" stroke-width="0.3" stroke-linejoin="round">I</text>
<text transform="translate(86.42,154.53) rotate(-90) scale(1.4208,1)" font-family='"Liberation Sans", sans-serif' font-weight="bold" font-size="7.89" fill="#000" stroke="#000" stroke-width="0.3" stroke-linejoin="round">DS</text>
<text transform="translate(83.79,138.91) rotate(-90) scale(1.0052,1)" font-family='"Liberation Sans", sans-serif' font-weight="bold" font-size="10.05" fill="#000" stroke="#000" stroke-width="0.3" stroke-linejoin="round">(μA)</text>
<path d="M115.3,180.1 L116.3,178.47 L117.3,176.97 L118.3,175.56 L119.3,174.22 L120.3,172.94 L121.3,171.68 L122.3,170.44 L123.3,169.25 L124.3,168.1 L125.3,167 L126.3,165.93 L127.3,164.84 L128.3,163.77 L129.3,162.72 L130.3,161.7 L131.3,160.69 L132.3,159.69 L133.3,158.7 L134.3,157.71 L135.3,156.72 L136.3,155.73 L137.3,154.74 L138.3,153.76 L139.3,152.78 L140.3,151.8 L141.3,150.85 L142.3,149.91 L143.3,148.99 L144.3,148.1 L145.3,147.24 L146.3,146.41 L147.3,145.61 L148.3,144.84 L149.3,144.11 L150.3,143.41 L151.3,142.74 L152.3,142.1 L153.3,141.49 L154.3,140.91 L155.3,140.34 L156.3,139.8 L157.3,139.27 L158.3,138.76 L159.3,138.25 L160.3,137.76 L161.3,137.27 L162.3,136.78 L163.3,136.3 L164.3,135.81 L165.3,135.32 L166.3,134.83 L167.3,134.33 L168.3,133.82 L169.3,133.31 L170.3,132.79 L171.3,132.26 L172.3,131.72 L173.3,131.18 L174.3,130.63 L175.3,130.07 L176.3,129.52 L177.3,128.96 L178.3,128.41 L179.3,127.85 L180.3,127.31 L181.3,126.77 L182.3,126.23 L183.3,125.7 L184.3,125.17 L185.3,124.65 L186.3,124.13 L187.3,123.6 L188.3,123.07 L189.3,122.52 L190.3,121.96 L191.3,121.39 L192.3,120.79 L193.3,120.17 L194.3,119.53 L195.3,118.87 L196.3,118.18 L197.3,117.46 L198.3,116.72 L199.3,115.96 L200.3,115.16 L201.3,114.35 L202.3,113.51 L203.3,112.64 L204.3,111.76 L205.3,110.85 L206.3,109.92 L207.3,108.98 L208.3,108.03 L209.3,107.07 L210.3,106.1 L211.3,105.13 L212.3,104.16 L213.3,103.2 L214.3,102.24 L215.3,101.3 L216.3,100.36 L217.3,99.43 L218.3,98.53 L219.3,97.66 L220.3,96.8 L221.3,95.95 L222.3,95.08 L223.3,94.18 L224.3,93.24 L225.3,92.24 L225.5,91.9" fill="none" stroke="#000000" stroke-width="1.6" stroke-linejoin="round" stroke-linecap="round"/>
<path d="M115.5,145.2 L116.5,144.6 L117.5,144.08 L118.5,143.59 L119.5,143.13 L120.5,142.69 L121.5,142.27 L122.5,141.85 L123.5,141.46 L124.5,141.09 L125.5,140.75 L126.5,140.42 L127.5,140.11 L128.5,139.82 L129.5,139.54 L130.5,139.27 L131.5,139.01 L132.5,138.77 L133.5,138.53 L134.5,138.3 L135.5,138.08 L136.5,137.86 L137.5,137.65 L138.5,137.45 L139.5,137.25 L140.5,137.06 L141.5,136.87 L142.5,136.68 L143.5,136.5 L144.5,136.32 L145.5,136.14 L146.5,135.97 L147.5,135.79 L148.5,135.62 L149.5,135.45 L150.5,135.28 L151.5,135.11 L152.5,134.94 L153.5,134.77 L154.5,134.61 L155.5,134.44 L156.5,134.28 L157.5,134.11 L158.5,133.96 L159.5,133.81 L160.5,133.66 L161.5,133.52 L162.5,133.38 L163.5,133.26 L164.5,133.14 L165.5,133.03 L166.5,132.93 L167.5,132.83 L168.5,132.75 L169.5,132.67 L170.5,132.6 L171.5,132.53 L172.5,132.46 L173.5,132.4 L174.5,132.33 L175.5,132.27 L176.5,132.2 L177.5,132.13 L178.5,132.05 L179.5,131.96 L180.5,131.87 L181.5,131.77 L182.5,131.66 L183.5,131.54 L184.5,131.42 L185.5,131.29 L186.5,131.15 L187.5,131.01 L188.5,130.86 L189.5,130.72 L190.5,130.58 L191.5,130.43 L192.5,130.29 L193.5,130.15 L194.5,130.01 L195.5,129.87 L196.5,129.73 L197.5,129.59 L198.5,129.45 L199.5,129.3 L200.5,129.16 L201.5,129.01 L202.5,128.85 L203.5,128.7 L204.5,128.54 L205.5,128.38 L206.5,128.21 L207.5,128.04 L208.5,127.87 L209.5,127.69 L210.5,127.51 L211.5,127.33 L212.5,127.15 L213.5,126.96 L214.5,126.78 L215.5,126.59 L216.5,126.4 L217.5,126.21 L218.5,126.01 L219.5,125.82 L220.5,125.62 L221.5,125.43 L222.5,125.23 L223.5,125.03 L224.5,124.83 L225.5,124.6" fill="none" stroke="#ff0000" stroke-width="2" stroke-linejoin="round" stroke-linecap="round"/>
<path d="M115.5,143.3 L116.5,142.87 L117.5,142.49 L118.5,142.13 L119.5,141.79 L120.5,141.45 L121.5,141.12 L122.5,140.8 L123.5,140.49 L124.5,140.19 L125.5,139.9 L126.5,139.62 L127.5,139.36 L128.5,139.1 L129.5,138.85 L130.5,138.61 L131.5,138.38 L132.5,138.15 L133.5,137.93 L134.5,137.72 L135.5,137.51 L136.5,137.31 L137.5,137.11 L138.5,136.92 L139.5,136.73 L140.5,136.55 L141.5,136.37 L142.5,136.19 L143.5,136.02 L144.5,135.85 L145.5,135.68 L146.5,135.52 L147.5,135.36 L148.5,135.21 L149.5,135.05 L150.5,134.9 L151.5,134.76 L152.5,134.61 L153.5,134.47 L154.5,134.33 L155.5,134.2 L156.5,134.07 L157.5,133.93 L158.5,133.81 L159.5,133.68 L160.5,133.56 L161.5,133.44 L162.5,133.33 L163.5,133.22 L164.5,133.11 L165.5,133.01 L166.5,132.92 L167.5,132.83 L168.5,132.74 L169.5,132.66 L170.5,132.58 L171.5,132.51 L172.5,132.43 L173.5,132.36 L174.5,132.29 L175.5,132.22 L176.5,132.14 L177.5,132.06 L178.5,131.97 L179.5,131.87 L180.5,131.77 L181.5,131.65 L182.5,131.53 L183.5,131.4 L184.5,131.25 L185.5,131.11 L186.5,130.95 L187.5,130.79 L188.5,130.63 L189.5,130.47 L190.5,130.31 L191.5,130.15 L192.5,130 L193.5,129.84 L194.5,129.69 L195.5,129.54 L196.5,129.4 L197.5,129.25 L198.5,129.1 L199.5,128.95 L200.5,128.79 L201.5,128.63 L202.5,128.47 L203.5,128.3 L204.5,128.13 L205.5,127.95 L206.5,127.76 L207.5,127.57 L208.5,127.37 L209.5,127.17 L210.5,126.97 L211.5,126.76 L212.5,126.55 L213.5,126.34 L214.5,126.12 L215.5,125.9 L216.5,125.68 L217.5,125.46 L218.5,125.24 L219.5,125.01 L220.5,124.79 L221.5,124.56 L222.5,124.33 L223.5,124.1 L224.5,123.86 L225.5,123.6" fill="none" stroke="#0000ff" stroke-width="2" stroke-linejoin="round" stroke-linecap="round"/>
<path d="M115.5,141.6 L116.5,141.23 L117.5,140.9 L118.5,140.59 L119.5,140.29 L120.5,140 L121.5,139.71 L122.5,139.43 L123.5,139.16 L124.5,138.9 L125.5,138.65 L126.5,138.41 L127.5,138.18 L128.5,137.95 L129.5,137.74 L130.5,137.53 L131.5,137.33 L132.5,137.13 L133.5,136.94 L134.5,136.75 L135.5,136.57 L136.5,136.39 L137.5,136.22 L138.5,136.05 L139.5,135.88 L140.5,135.72 L141.5,135.56 L142.5,135.4 L143.5,135.25 L144.5,135.1 L145.5,134.96 L146.5,134.83 L147.5,134.7 L148.5,134.57 L149.5,134.45 L150.5,134.34 L151.5,134.22 L152.5,134.12 L153.5,134.01 L154.5,133.91 L155.5,133.82 L156.5,133.72 L157.5,133.63 L158.5,133.54 L159.5,133.46 L160.5,133.37 L161.5,133.29 L162.5,133.21 L163.5,133.13 L164.5,133.06 L165.5,132.98 L166.5,132.91 L167.5,132.84 L168.5,132.77 L169.5,132.71 L170.5,132.64 L171.5,132.58 L172.5,132.52 L173.5,132.46 L174.5,132.4 L175.5,132.34 L176.5,132.28 L177.5,132.21 L178.5,132.14 L179.5,132.06 L180.5,131.98 L181.5,131.89 L182.5,131.79 L183.5,131.69 L184.5,131.58 L185.5,131.46 L186.5,131.35 L187.5,131.22 L188.5,131.1 L189.5,130.97 L190.5,130.84 L191.5,130.72 L192.5,130.59 L193.5,130.46 L194.5,130.33 L195.5,130.2 L196.5,130.07 L197.5,129.94 L198.5,129.8 L199.5,129.67 L200.5,129.53 L201.5,129.39 L202.5,129.24 L203.5,129.09 L204.5,128.94 L205.5,128.78 L206.5,128.62 L207.5,128.46 L208.5,128.29 L209.5,128.12 L210.5,127.95 L211.5,127.77 L212.5,127.6 L213.5,127.43 L214.5,127.26 L215.5,127.09 L216.5,126.93 L217.5,126.76 L218.5,126.6 L219.5,126.44 L220.5,126.28 L221.5,126.13 L222.5,125.97 L223.5,125.82 L224.5,125.67 L225.5,125.5" fill="none" stroke="#7a3300" stroke-width="2" stroke-linejoin="round" stroke-linecap="round"/>
<path d="M115.5,146.7 L116.5,146.04 L117.5,145.45 L118.5,144.91 L119.5,144.39 L120.5,143.89 L121.5,143.41 L122.5,142.94 L123.5,142.49 L124.5,142.06 L125.5,141.65 L126.5,141.26 L127.5,140.89 L128.5,140.54 L129.5,140.21 L130.5,139.89 L131.5,139.59 L132.5,139.31 L133.5,139.04 L134.5,138.79 L135.5,138.55 L136.5,138.32 L137.5,138.1 L138.5,137.89 L139.5,137.69 L140.5,137.49 L141.5,137.3 L142.5,137.12 L143.5,136.93 L144.5,136.75 L145.5,136.57 L146.5,136.39 L147.5,136.21 L148.5,136.03 L149.5,135.85 L150.5,135.66 L151.5,135.48 L152.5,135.29 L153.5,135.1 L154.5,134.91 L155.5,134.72 L156.5,134.53 L157.5,134.35 L158.5,134.16 L159.5,133.99 L160.5,133.81 L161.5,133.65 L162.5,133.49 L163.5,133.33 L164.5,133.19 L165.5,133.06 L166.5,132.93 L167.5,132.81 L168.5,132.7 L169.5,132.6 L170.5,132.51 L171.5,132.42 L172.5,132.33 L173.5,132.24 L174.5,132.16 L175.5,132.07 L176.5,131.98 L177.5,131.89 L178.5,131.79 L179.5,131.69 L180.5,131.57 L181.5,131.45 L182.5,131.32 L183.5,131.19 L184.5,131.05 L185.5,130.9 L186.5,130.75 L187.5,130.59 L188.5,130.43 L189.5,130.27 L190.5,130.11 L191.5,129.95 L192.5,129.79 L193.5,129.62 L194.5,129.46 L195.5,129.3 L196.5,129.14 L197.5,128.97 L198.5,128.8 L199.5,128.63 L200.5,128.46 L201.5,128.28 L202.5,128.1 L203.5,127.92 L204.5,127.73 L205.5,127.54 L206.5,127.34 L207.5,127.14 L208.5,126.94 L209.5,126.73 L210.5,126.51 L211.5,126.29 L212.5,126.06 L213.5,125.81 L214.5,125.56 L215.5,125.29 L216.5,125.01 L217.5,124.71 L218.5,124.39 L219.5,124.06 L220.5,123.73 L221.5,123.38 L222.5,123.02 L223.5,122.65 L224.5,122.25 L225.5,121.8" fill="none" stroke="#008000" stroke-width="2" stroke-linejoin="round" stroke-linecap="round"/>
<rect x="187.8" y="10.8" width="143.4" height="75.8" stroke="#5a5a5a" stroke-width="1" fill="#fff"/>
<line x1="188.4" y1="19.5" x2="212.6" y2="19.5" stroke="#000000" stroke-width="3"/>
<text transform="translate(215.13,23.07) scale(1.0300,1)" font-family='"Liberation Sans", sans-serif' font-weight="bold" font-size="11.5" fill="#000" stroke="#000" stroke-width="0.3" stroke-linejoin="round">before</text>
<line x1="188.4" y1="34.4" x2="212.6" y2="34.4" stroke="#ff0000" stroke-width="3"/>
<text transform="translate(215.13,37.96) scale(1.0300,1)" font-family='"Liberation Sans", sans-serif' font-weight="bold" font-size="11.5" fill="#000" stroke="#000" stroke-width="0.3" stroke-linejoin="round">water 1st</text>
<line x1="188.4" y1="49.3" x2="212.6" y2="49.3" stroke="#0000ff" stroke-width="3"/>
<text transform="translate(215.13,52.86) scale(1.0300,1)" font-family='"Liberation Sans", sans-serif' font-weight="bold" font-size="11.5" fill="#000" stroke="#000" stroke-width="0.3" stroke-linejoin="round">pump 12h</text>
<line x1="188.4" y1="64.2" x2="212.6" y2="64.2" stroke="#7a3300" stroke-width="3"/>
<text transform="translate(215.13,67.77) scale(1.0300,1)" font-family='"Liberation Sans", sans-serif' font-weight="bold" font-size="11.5" fill="#000" stroke="#000" stroke-width="0.3" stroke-linejoin="round">water 2nd</text>
<line x1="188.4" y1="79.2" x2="212.6" y2="79.2" stroke="#008000" stroke-width="3"/>
<text transform="translate(215.13,82.77) scale(1.0300,1)" font-family='"Liberation Sans", sans-serif' font-weight="bold" font-size="11.5" fill="#000" stroke="#000" stroke-width="0.3" stroke-linejoin="round">pump 3h and anneal</text>
<line x1="437.4" y1="25" x2="437.4" y2="236.4" stroke="#666666" stroke-width="1.1"/>
<line x1="436.9" y1="235.9" x2="699.66" y2="235.9" stroke="#666666" stroke-width="1.1"/>
<line x1="432.8" y1="232.3" x2="437.4" y2="232.3" stroke="#666666" stroke-width="1.1"/>
<line x1="435" y1="210.7" x2="437.4" y2="210.7" stroke="#666666" stroke-width="1.1"/>
<line x1="432.8" y1="189.1" x2="437.4" y2="189.1" stroke="#666666" stroke-width="1.1"/>
<line x1="435" y1="167.5" x2="437.4" y2="167.5" stroke="#666666" stroke-width="1.1"/>
<line x1="432.8" y1="145.9" x2="437.4" y2="145.9" stroke="#666666" stroke-width="1.1"/>
<line x1="435" y1="124.3" x2="437.4" y2="124.3" stroke="#666666" stroke-width="1.1"/>
<line x1="432.8" y1="102.7" x2="437.4" y2="102.7" stroke="#666666" stroke-width="1.1"/>
<line x1="435" y1="81.1" x2="437.4" y2="81.1" stroke="#666666" stroke-width="1.1"/>
<line x1="432.8" y1="59.5" x2="437.4" y2="59.5" stroke="#666666" stroke-width="1.1"/>
<line x1="435" y1="37.9" x2="437.4" y2="37.9" stroke="#666666" stroke-width="1.1"/>
<line x1="437.4" y1="235.9" x2="437.4" y2="239.9" stroke="#666666" stroke-width="1.1"/>
<line x1="453.76" y1="235.9" x2="453.76" y2="238.1" stroke="#666666" stroke-width="1.1"/>
<line x1="470.12" y1="235.9" x2="470.12" y2="239.9" stroke="#666666" stroke-width="1.1"/>
<line x1="486.48" y1="235.9" x2="486.48" y2="238.1" stroke="#666666" stroke-width="1.1"/>
<line x1="502.84" y1="235.9" x2="502.84" y2="239.9" stroke="#666666" stroke-width="1.1"/>
<line x1="519.2" y1="235.9" x2="519.2" y2="238.1" stroke="#666666" stroke-width="1.1"/>
<line x1="535.56" y1="235.9" x2="535.56" y2="239.9" stroke="#666666" stroke-width="1.1"/>
<line x1="551.92" y1="235.9" x2="551.92" y2="238.1" stroke="#666666" stroke-width="1.1"/>
<line x1="568.28" y1="235.9" x2="568.28" y2="239.9" stroke="#666666" stroke-width="1.1"/>
<line x1="584.64" y1="235.9" x2="584.64" y2="238.1" stroke="#666666" stroke-width="1.1"/>
<line x1="601" y1="235.9" x2="601" y2="239.9" stroke="#666666" stroke-width="1.1"/>
<line x1="617.36" y1="235.9" x2="617.36" y2="238.1" stroke="#666666" stroke-width="1.1"/>
<line x1="633.72" y1="235.9" x2="633.72" y2="239.9" stroke="#666666" stroke-width="1.1"/>
<line x1="650.08" y1="235.9" x2="650.08" y2="238.1" stroke="#666666" stroke-width="1.1"/>
<line x1="666.44" y1="235.9" x2="666.44" y2="239.9" stroke="#666666" stroke-width="1.1"/>
<line x1="682.8" y1="235.9" x2="682.8" y2="238.1" stroke="#666666" stroke-width="1.1"/>
<line x1="699.16" y1="235.9" x2="699.16" y2="239.9" stroke="#666666" stroke-width="1.1"/>
<text transform="translate(424.85,256.24) scale(1.0100,1)" font-family='"Liberation Sans", sans-serif' font-weight="bold" font-size="17.2" fill="#000" stroke="#000" stroke-width="0.38" stroke-linejoin="round">-50</text>
<text transform="translate(457.57,256.24) scale(1.0100,1)" font-family='"Liberation Sans", sans-serif' font-weight="bold" font-size="17.2" fill="#000" stroke="#000" stroke-width="0.38" stroke-linejoin="round">-40</text>
<text transform="translate(490.29,256.24) scale(1.0100,1)" font-family='"Liberation Sans", sans-serif' font-weight="bold" font-size="17.2" fill="#000" stroke="#000" stroke-width="0.38" stroke-linejoin="round">-30</text>
<text transform="translate(523.01,256.24) scale(1.0100,1)" font-family='"Liberation Sans", sans-serif' font-weight="bold" font-size="17.2" fill="#000" stroke="#000" stroke-width="0.38" stroke-linejoin="round">-20</text>
<text transform="translate(555.73,256.24) scale(1.0100,1)" font-family='"Liberation Sans", sans-serif' font-weight="bold" font-size="17.2" fill="#000" stroke="#000" stroke-width="0.38" stroke-linejoin="round">-10</text>
<text transform="translate(596.18,256.24) scale(1.0100,1)" font-family='"Liberation Sans", sans-serif' font-weight="bold" font-size="17.2" fill="#000" stroke="#000" stroke-width="0.38" stroke-linejoin="round">0</text>
<text transform="translate(623.9,256.24) scale(1.0100,1)" font-family='"Liberation Sans", sans-serif' font-weight="bold" font-size="17.2" fill="#000" stroke="#000" stroke-width="0.38" stroke-linejoin="round">10</text>
<text transform="translate(656.84,256.24) scale(1.0100,1)" font-family='"Liberation Sans", sans-serif' font-weight="bold" font-size="17.2" fill="#000" stroke="#000" stroke-width="0.38" stroke-linejoin="round">20</text>
<text transform="translate(689.65,256.24) scale(1.0100,1)" font-family='"Liberation Sans", sans-serif' font-weight="bold" font-size="17.2" fill="#000" stroke="#000" stroke-width="0.38" stroke-linejoin="round">30</text>
<text transform="translate(421.04,237.53) scale(0.9550,1)" font-family='"Liberation Sans", sans-serif' font-weight="bold" font-size="17.2" fill="#000" stroke="#000" stroke-width="0.38" stroke-linejoin="round">0</text>
<text transform="translate(420.79,194.33) scale(0.9550,1)" font-family='"Liberation Sans", sans-serif' font-weight="bold" font-size="17.2" fill="#000" stroke="#000" stroke-width="0.38" stroke-linejoin="round">1</text>
<text transform="translate(421.04,151.22) scale(0.9550,1)" font-family='"Liberation Sans", sans-serif' font-weight="bold" font-size="17.2" fill="#000" stroke="#000" stroke-width="0.38" stroke-linejoin="round">2</text>
<text transform="translate(420.96,107.93) scale(0.9550,1)" font-family='"Liberation Sans", sans-serif' font-weight="bold" font-size="17.2" fill="#000" stroke="#000" stroke-width="0.38" stroke-linejoin="round">3</text>
<text transform="translate(420.47,64.73) scale(0.9550,1)" font-family='"Liberation Sans", sans-serif' font-weight="bold" font-size="17.2" fill="#000" stroke="#000" stroke-width="0.38" stroke-linejoin="round">4</text>
<text transform="translate(397.39,29.93) scale(1.0273,1)" font-family='"Liberation Serif", serif' font-weight="normal" font-size="24.07" fill="#000" stroke="#000" stroke-width="0.12" stroke-linejoin="round">(b)</text>
<text transform="translate(404.1,156.69) rotate(-90)" font-family='"Liberation Sans", sans-serif' font-weight="normal" font-size="21.01" fill="#000">I</text>
<text transform="translate(411.68,150.73) rotate(-90) scale(1.0806,1)" font-family='"Liberation Sans", sans-serif' font-weight="normal" font-size="11.97" fill="#000">DS</text>
<text transform="translate(404.39,137.44) rotate(-90) scale(1.1649,1)" font-family='"Liberation Sans", sans-serif' font-weight="normal" font-size="20.53" fill="#000">(μA)</text>
<text transform="translate(545.8,281) scale(0.9236,1)" font-family='"Liberation Sans", sans-serif' font-weight="normal" font-size="21.16" fill="#000">V</text>
<text transform="translate(559.34,287.78) scale(1.1227,1)" font-family='"Liberation Sans", sans-serif' font-weight="normal" font-size="11.83" fill="#000">G</text>
<text transform="translate(569.53,280.7) scale(1.0093,1)" font-family='"Liberation Sans", sans-serif' font-weight="normal" font-size="20.96" fill="#000">(V)</text>
<path d="M453,232.6 L454,232.6 L455,232.6 L456,232.6 L457,232.6 L458,232.6 L459,232.6 L460,232.6 L461,232.59 L462,232.59 L463,232.59 L464,232.59 L465,232.59 L466,232.59 L467,232.59 L468,232.58 L469,232.58 L470,232.58 L471,232.58 L472,232.57 L473,232.57 L474,232.57 L475,232.57 L476,232.56 L477,232.56 L478,232.55 L479,232.55 L480,232.55 L481,232.54 L482,232.54 L483,232.53 L484,232.53 L485,232.52 L486,232.52 L487,232.51 L488,232.5 L489,232.48 L490,232.47 L491,232.45 L492,232.42 L493,232.39 L494,232.36 L495,232.32 L496,232.27 L497,232.22 L498,232.17 L499,232.11 L500,232.04 L501,231.97 L502,231.89 L503,231.81 L504,231.73 L505,231.64 L506,231.55 L507,231.46 L508,231.36 L509,231.25 L510,231.14 L511,231.02 L512,230.9 L513,230.77 L514,230.62 L515,230.48 L516,230.32 L517,230.16 L518,229.99 L519,229.81 L520,229.63 L521,229.45 L522,229.27 L523,229.08 L524,228.89 L525,228.69 L526,228.5 L527,228.3 L528,228.1 L529,227.89 L530,227.69 L531,227.48 L532,227.27 L533,227.05 L534,226.83 L535,226.62 L536,226.39 L537,226.17 L538,225.95 L539,225.72 L540,225.49 L541,225.26 L542,225.03 L543,224.8 L544,224.57 L545,224.33 L546,224.09 L547,223.85 L548,223.61 L549,223.36 L550,223.11 L551,222.85 L552,222.59 L553,222.32 L554,222.04 L555,221.76 L556,221.47 L557,221.18 L558,220.88 L559,220.57 L560,220.25 L561,219.93 L562,219.6 L563,219.26 L564,218.91 L565,218.55 L566,218.18 L567,217.8 L568,217.41 L569,217 L570,216.58 L571,216.15 L572,215.7 L573,215.23 L574,214.74 L575,214.24 L576,213.72 L577,213.18 L578,212.63 L579,212.07 L580,211.49 L581,210.9 L582,210.31 L583,209.71 L584,209.1 L585,208.49 L586,207.87 L587,207.25 L588,206.62 L589,205.99 L590,205.35 L591,204.7 L592,204.03 L593,203.36 L594,202.66 L595,201.95 L596,201.22 L597,200.46 L598,199.68 L599,198.87 L600,198.04 L601,197.18 L602,196.29 L603,195.37 L604,194.42 L605,193.46 L606,192.46 L607,191.45 L608,190.42 L609,189.38 L610,188.31 L611,187.23 L612,186.14 L613,185.04 L614,183.92 L615,182.8 L616,181.67 L617,180.54 L618,179.41 L619,178.29 L620,177.18 L621,176.08 L622,174.99 L623,173.91 L624,172.84 L625,171.77 L626,170.7 L627,169.62 L628,168.54 L629,167.44 L630,166.32 L631,165.2 L632,164.07 L633,162.92 L634,161.78 L635,160.63 L636,159.49 L637,158.35 L638,157.22 L639,156.1 L640,154.98 L641,153.86 L642,152.74 L643,151.62 L644,150.49 L645,149.34 L646,148.18 L647,147.01 L648,145.82 L649,144.61 L650,143.4 L651,142.17 L652,140.93 L653,139.68 L654,138.43 L655,137.17 L656,135.91 L657,134.64 L658,133.37 L659,132.09 L660,130.79 L661,129.49 L662,128.16 L663,126.81 L664,125.43 L665,124.03 L666,122.58 L667,121.1 L668,119.57 L669,118.01 L670,116.41 L671,114.79 L672,113.16 L673,111.53 L674,109.92 L675,108.29 L676,106.69 L677,105.16 L678,103.68 L679,102.24 L680,100.85 L681,99.48 L682,98.09 L682.9,96.8" fill="none" stroke="#000000" stroke-width="2.8" stroke-linejoin="round" stroke-linecap="round"/>
<path d="M453,232.4 L454,232.4 L455,232.39 L456,232.38 L457,232.37 L458,232.36 L459,232.35 L460,232.34 L461,232.33 L462,232.32 L463,232.3 L464,232.29 L465,232.27 L466,232.25 L467,232.24 L468,232.22 L469,232.2 L470,232.18 L471,232.16 L472,232.14 L473,232.11 L474,232.09 L475,232.07 L476,232.04 L477,232.01 L478,231.99 L479,231.96 L480,231.93 L481,231.91 L482,231.88 L483,231.85 L484,231.82 L485,231.79 L486,231.76 L487,231.73 L488,231.7 L489,231.66 L490,231.63 L491,231.6 L492,231.57 L493,231.53 L494,231.5 L495,231.47 L496,231.43 L497,231.4 L498,231.36 L499,231.33 L500,231.29 L501,231.25 L502,231.21 L503,231.17 L504,231.13 L505,231.09 L506,231.04 L507,231 L508,230.95 L509,230.9 L510,230.85 L511,230.8 L512,230.74 L513,230.69 L514,230.63 L515,230.57 L516,230.51 L517,230.45 L518,230.39 L519,230.32 L520,230.26 L521,230.19 L522,230.13 L523,230.06 L524,229.99 L525,229.92 L526,229.85 L527,229.77 L528,229.7 L529,229.62 L530,229.55 L531,229.47 L532,229.38 L533,229.3 L534,229.22 L535,229.13 L536,229.04 L537,228.95 L538,228.86 L539,228.77 L540,228.67 L541,228.58 L542,228.48 L543,228.38 L544,228.27 L545,228.17 L546,228.06 L547,227.95 L548,227.84 L549,227.73 L550,227.62 L551,227.5 L552,227.38 L553,227.26 L554,227.14 L555,227.01 L556,226.87 L557,226.74 L558,226.59 L559,226.45 L560,226.29 L561,226.14 L562,225.98 L563,225.81 L564,225.64 L565,225.47 L566,225.3 L567,225.13 L568,224.96 L569,224.78 L570,224.61 L571,224.44 L572,224.27 L573,224.1 L574,223.92 L575,223.75 L576,223.58 L577,223.4 L578,223.22 L579,223.04 L580,222.85 L581,222.66 L582,222.47 L583,222.26 L584,222.05 L585,221.83 L586,221.6 L587,221.37 L588,221.12 L589,220.87 L590,220.61 L591,220.34 L592,220.06 L593,219.77 L594,219.48 L595,219.18 L596,218.87 L597,218.55 L598,218.23 L599,217.9 L600,217.56 L601,217.21 L602,216.85 L603,216.48 L604,216.1 L605,215.72 L606,215.33 L607,214.93 L608,214.53 L609,214.12 L610,213.7 L611,213.28 L612,212.85 L613,212.42 L614,211.99 L615,211.55 L616,211.11 L617,210.66 L618,210.2 L619,209.74 L620,209.28 L621,208.8 L622,208.33 L623,207.84 L624,207.35 L625,206.86 L626,206.35 L627,205.84 L628,205.32 L629,204.8 L630,204.27 L631,203.73 L632,203.18 L633,202.63 L634,202.07 L635,201.5 L636,200.93 L637,200.35 L638,199.76 L639,199.16 L640,198.56 L641,197.94 L642,197.32 L643,196.69 L644,196.06 L645,195.41 L646,194.76 L647,194.1 L648,193.44 L649,192.77 L650,192.11 L651,191.43 L652,190.76 L653,190.09 L654,189.42 L655,188.74 L656,188.07 L657,187.4 L658,186.73 L659,186.05 L660,185.38 L661,184.71 L662,184.03 L663,183.35 L664,182.66 L665,181.97 L666,181.28 L667,180.58 L668,179.88 L669,179.17 L670,178.45 L671,177.73 L672,177.01 L673,176.28 L674,175.55 L675,174.83 L676,174.1 L677,173.38 L678,172.65 L679,171.92 L680,171.18 L681,170.42 L682,169.6 L682.9,168.8" fill="none" stroke="#ff0000" stroke-width="2.8" stroke-linejoin="round" stroke-linecap="round"/>
<path d="M453,232.4 L454,232.4 L455,232.39 L456,232.38 L457,232.37 L458,232.36 L459,232.35 L460,232.34 L461,232.33 L462,232.32 L463,232.3 L464,232.29 L465,232.27 L466,232.25 L467,232.24 L468,232.22 L469,232.2 L470,232.18 L471,232.16 L472,232.14 L473,232.11 L474,232.09 L475,232.07 L476,232.04 L477,232.01 L478,231.99 L479,231.96 L480,231.93 L481,231.91 L482,231.88 L483,231.85 L484,231.82 L485,231.79 L486,231.76 L487,231.73 L488,231.7 L489,231.66 L490,231.63 L491,231.6 L492,231.57 L493,231.53 L494,231.5 L495,231.47 L496,231.43 L497,231.4 L498,231.36 L499,231.33 L500,231.29 L501,231.25 L502,231.22 L503,231.18 L504,231.13 L505,231.09 L506,231.05 L507,231 L508,230.95 L509,230.9 L510,230.85 L511,230.8 L512,230.74 L513,230.69 L514,230.63 L515,230.57 L516,230.51 L517,230.45 L518,230.39 L519,230.33 L520,230.26 L521,230.19 L522,230.13 L523,230.06 L524,229.99 L525,229.92 L526,229.85 L527,229.77 L528,229.7 L529,229.62 L530,229.54 L531,229.46 L532,229.38 L533,229.29 L534,229.2 L535,229.12 L536,229.03 L537,228.93 L538,228.84 L539,228.74 L540,228.65 L541,228.55 L542,228.44 L543,228.34 L544,228.23 L545,228.13 L546,228.02 L547,227.9 L548,227.79 L549,227.67 L550,227.55 L551,227.43 L552,227.31 L553,227.18 L554,227.04 L555,226.91 L556,226.77 L557,226.62 L558,226.47 L559,226.31 L560,226.14 L561,225.97 L562,225.8 L563,225.62 L564,225.44 L565,225.25 L566,225.06 L567,224.88 L568,224.69 L569,224.51 L570,224.32 L571,224.14 L572,223.96 L573,223.78 L574,223.6 L575,223.42 L576,223.24 L577,223.05 L578,222.87 L579,222.68 L580,222.49 L581,222.29 L582,222.08 L583,221.87 L584,221.65 L585,221.42 L586,221.18 L587,220.94 L588,220.68 L589,220.41 L590,220.14 L591,219.85 L592,219.56 L593,219.26 L594,218.95 L595,218.64 L596,218.32 L597,217.98 L598,217.65 L599,217.3 L600,216.95 L601,216.58 L602,216.22 L603,215.84 L604,215.45 L605,215.06 L606,214.66 L607,214.26 L608,213.85 L609,213.43 L610,213.01 L611,212.59 L612,212.17 L613,211.74 L614,211.31 L615,210.88 L616,210.44 L617,210.01 L618,209.56 L619,209.12 L620,208.66 L621,208.21 L622,207.75 L623,207.28 L624,206.8 L625,206.32 L626,205.84 L627,205.34 L628,204.84 L629,204.33 L630,203.82 L631,203.29 L632,202.76 L633,202.22 L634,201.68 L635,201.13 L636,200.57 L637,200 L638,199.42 L639,198.83 L640,198.24 L641,197.64 L642,197.03 L643,196.4 L644,195.77 L645,195.14 L646,194.49 L647,193.84 L648,193.19 L649,192.53 L650,191.87 L651,191.2 L652,190.54 L653,189.88 L654,189.22 L655,188.56 L656,187.91 L657,187.25 L658,186.6 L659,185.95 L660,185.3 L661,184.65 L662,184 L663,183.35 L664,182.69 L665,182.04 L666,181.39 L667,180.74 L668,180.08 L669,179.43 L670,178.77 L671,178.11 L672,177.45 L673,176.8 L674,176.14 L675,175.49 L676,174.84 L677,174.19 L678,173.55 L679,172.91 L680,172.26 L681,171.59 L682,170.89 L682.9,170.2" fill="none" stroke="#0000ff" stroke-width="2.8" stroke-linejoin="round" stroke-linecap="round"/>
<path d="M453,232.6 L454,232.6 L455,232.6 L456,232.6 L457,232.59 L458,232.59 L459,232.58 L460,232.58 L461,232.57 L462,232.57 L463,232.56 L464,232.55 L465,232.55 L466,232.54 L467,232.53 L468,232.52 L469,232.51 L470,232.5 L471,232.49 L472,232.48 L473,232.46 L474,232.45 L475,232.44 L476,232.43 L477,232.41 L478,232.4 L479,232.38 L480,232.37 L481,232.35 L482,232.34 L483,232.32 L484,232.3 L485,232.29 L486,232.27 L487,232.25 L488,232.23 L489,232.21 L490,232.2 L491,232.18 L492,232.16 L493,232.14 L494,232.12 L495,232.1 L496,232.08 L497,232.06 L498,232.04 L499,232.01 L500,231.99 L501,231.96 L502,231.94 L503,231.91 L504,231.88 L505,231.85 L506,231.82 L507,231.78 L508,231.74 L509,231.71 L510,231.67 L511,231.62 L512,231.58 L513,231.54 L514,231.49 L515,231.45 L516,231.4 L517,231.35 L518,231.3 L519,231.25 L520,231.2 L521,231.15 L522,231.1 L523,231.05 L524,230.99 L525,230.94 L526,230.89 L527,230.83 L528,230.78 L529,230.72 L530,230.66 L531,230.6 L532,230.54 L533,230.48 L534,230.42 L535,230.36 L536,230.29 L537,230.23 L538,230.16 L539,230.09 L540,230.03 L541,229.96 L542,229.89 L543,229.81 L544,229.74 L545,229.67 L546,229.59 L547,229.52 L548,229.44 L549,229.37 L550,229.29 L551,229.21 L552,229.13 L553,229.05 L554,228.96 L555,228.88 L556,228.79 L557,228.7 L558,228.61 L559,228.52 L560,228.43 L561,228.33 L562,228.23 L563,228.13 L564,228.03 L565,227.93 L566,227.82 L567,227.72 L568,227.62 L569,227.51 L570,227.41 L571,227.3 L572,227.2 L573,227.1 L574,226.99 L575,226.89 L576,226.78 L577,226.67 L578,226.56 L579,226.44 L580,226.32 L581,226.19 L582,226.06 L583,225.91 L584,225.76 L585,225.59 L586,225.42 L587,225.23 L588,225.02 L589,224.81 L590,224.58 L591,224.34 L592,224.09 L593,223.83 L594,223.57 L595,223.29 L596,223.01 L597,222.72 L598,222.43 L599,222.13 L600,221.83 L601,221.52 L602,221.21 L603,220.89 L604,220.56 L605,220.22 L606,219.88 L607,219.54 L608,219.18 L609,218.82 L610,218.44 L611,218.06 L612,217.68 L613,217.28 L614,216.87 L615,216.46 L616,216.03 L617,215.6 L618,215.16 L619,214.71 L620,214.26 L621,213.8 L622,213.34 L623,212.88 L624,212.42 L625,211.96 L626,211.5 L627,211.04 L628,210.59 L629,210.14 L630,209.69 L631,209.24 L632,208.79 L633,208.34 L634,207.89 L635,207.43 L636,206.97 L637,206.5 L638,206.03 L639,205.55 L640,205.06 L641,204.57 L642,204.06 L643,203.55 L644,203.03 L645,202.5 L646,201.96 L647,201.42 L648,200.87 L649,200.32 L650,199.77 L651,199.21 L652,198.66 L653,198.1 L654,197.55 L655,196.99 L656,196.44 L657,195.89 L658,195.34 L659,194.79 L660,194.24 L661,193.69 L662,193.15 L663,192.6 L664,192.05 L665,191.51 L666,190.96 L667,190.42 L668,189.88 L669,189.34 L670,188.81 L671,188.27 L672,187.72 L673,187.17 L674,186.59 L675,186 L676,185.42 L677,184.82 L678,184.2 L679,183.55 L680,182.84 L681,181.96 L682,180.85 L683,179.54 L683.2,179.1" fill="none" stroke="#7a3300" stroke-width="2.8" stroke-linejoin="round" stroke-linecap="round"/>
<path d="M453,232.4 L454,232.4 L455,232.4 L456,232.39 L457,232.39 L458,232.38 L459,232.37 L460,232.37 L461,232.36 L462,232.35 L463,232.34 L464,232.33 L465,232.31 L466,232.3 L467,232.29 L468,232.27 L469,232.26 L470,232.24 L471,232.22 L472,232.2 L473,232.19 L474,232.17 L475,232.15 L476,232.13 L477,232.11 L478,232.08 L479,232.06 L480,232.04 L481,232.01 L482,231.99 L483,231.97 L484,231.94 L485,231.92 L486,231.89 L487,231.86 L488,231.84 L489,231.81 L490,231.78 L491,231.76 L492,231.73 L493,231.7 L494,231.67 L495,231.64 L496,231.61 L497,231.58 L498,231.55 L499,231.52 L500,231.49 L501,231.46 L502,231.42 L503,231.39 L504,231.35 L505,231.31 L506,231.27 L507,231.23 L508,231.19 L509,231.14 L510,231.09 L511,231.04 L512,230.99 L513,230.94 L514,230.89 L515,230.83 L516,230.78 L517,230.72 L518,230.66 L519,230.6 L520,230.54 L521,230.48 L522,230.42 L523,230.35 L524,230.29 L525,230.22 L526,230.15 L527,230.08 L528,230.01 L529,229.94 L530,229.86 L531,229.79 L532,229.71 L533,229.63 L534,229.54 L535,229.46 L536,229.37 L537,229.29 L538,229.2 L539,229.1 L540,229.01 L541,228.92 L542,228.82 L543,228.72 L544,228.62 L545,228.52 L546,228.42 L547,228.31 L548,228.21 L549,228.1 L550,227.99 L551,227.88 L552,227.76 L553,227.65 L554,227.53 L555,227.4 L556,227.28 L557,227.15 L558,227.02 L559,226.88 L560,226.74 L561,226.6 L562,226.45 L563,226.3 L564,226.14 L565,225.99 L566,225.83 L567,225.68 L568,225.53 L569,225.37 L570,225.22 L571,225.07 L572,224.92 L573,224.77 L574,224.63 L575,224.48 L576,224.33 L577,224.18 L578,224.03 L579,223.88 L580,223.72 L581,223.55 L582,223.38 L583,223.2 L584,223.01 L585,222.81 L586,222.6 L587,222.39 L588,222.16 L589,221.92 L590,221.67 L591,221.42 L592,221.15 L593,220.88 L594,220.6 L595,220.32 L596,220.04 L597,219.75 L598,219.45 L599,219.16 L600,218.86 L601,218.56 L602,218.25 L603,217.94 L604,217.63 L605,217.31 L606,216.99 L607,216.65 L608,216.31 L609,215.96 L610,215.6 L611,215.22 L612,214.83 L613,214.43 L614,214.01 L615,213.58 L616,213.14 L617,212.68 L618,212.21 L619,211.72 L620,211.23 L621,210.72 L622,210.21 L623,209.69 L624,209.17 L625,208.64 L626,208.11 L627,207.57 L628,207.03 L629,206.49 L630,205.95 L631,205.4 L632,204.84 L633,204.29 L634,203.72 L635,203.16 L636,202.59 L637,202.02 L638,201.44 L639,200.87 L640,200.29 L641,199.7 L642,199.12 L643,198.53 L644,197.93 L645,197.34 L646,196.74 L647,196.14 L648,195.54 L649,194.93 L650,194.32 L651,193.7 L652,193.08 L653,192.46 L654,191.83 L655,191.2 L656,190.56 L657,189.92 L658,189.28 L659,188.63 L660,187.99 L661,187.34 L662,186.69 L663,186.05 L664,185.41 L665,184.78 L666,184.16 L667,183.55 L668,182.94 L669,182.35 L670,181.76 L671,181.19 L672,180.62 L673,180.07 L674,179.52 L675,178.98 L676,178.45 L677,177.93 L678,177.42 L679,176.92 L680,176.42 L681,175.92 L682,175.4 L682.9,174.9" fill="none" stroke="#008000" stroke-width="2.8" stroke-linejoin="round" stroke-linecap="round"/>
<line x1="469.5" y1="72.8" x2="469.5" y2="183.2" stroke="#000" stroke-width="1.3"/>
<line x1="468.9" y1="182.6" x2="604.4" y2="182.6" stroke="#000" stroke-width="1.3"/>
<line x1="466.9" y1="174.16" x2="469.5" y2="174.16" stroke="#000" stroke-width="1"/>
<line x1="467.9" y1="165.75" x2="469.5" y2="165.75" stroke="#000" stroke-width="1"/>
<line x1="466.9" y1="157.34" x2="469.5" y2="157.34" stroke="#000" stroke-width="1"/>
<line x1="467.9" y1="148.93" x2="469.5" y2="148.93" stroke="#000" stroke-width="1"/>
<line x1="466.9" y1="140.52" x2="469.5" y2="140.52" stroke="#000" stroke-width="1"/>
<line x1="467.9" y1="132.11" x2="469.5" y2="132.11" stroke="#000" stroke-width="1"/>
<line x1="466.9" y1="123.7" x2="469.5" y2="123.7" stroke="#000" stroke-width="1"/>
<line x1="467.9" y1="115.29" x2="469.5" y2="115.29" stroke="#000" stroke-width="1"/>
<line x1="466.9" y1="106.88" x2="469.5" y2="106.88" stroke="#000" stroke-width="1"/>
<line x1="467.9" y1="98.47" x2="469.5" y2="98.47" stroke="#000" stroke-width="1"/>
<line x1="466.9" y1="90.06" x2="469.5" y2="90.06" stroke="#000" stroke-width="1"/>
<line x1="467.9" y1="81.65" x2="469.5" y2="81.65" stroke="#000" stroke-width="1"/>
<line x1="466.9" y1="73.24" x2="469.5" y2="73.24" stroke="#000" stroke-width="1"/>
<line x1="482.7" y1="182.6" x2="482.7" y2="185.2" stroke="#000" stroke-width="1"/>
<line x1="496.18" y1="182.6" x2="496.18" y2="184.2" stroke="#000" stroke-width="1"/>
<line x1="509.65" y1="182.6" x2="509.65" y2="185.2" stroke="#000" stroke-width="1"/>
<line x1="523.12" y1="182.6" x2="523.12" y2="184.2" stroke="#000" stroke-width="1"/>
<line x1="536.6" y1="182.6" x2="536.6" y2="185.2" stroke="#000" stroke-width="1"/>
<line x1="550.08" y1="182.6" x2="550.08" y2="184.2" stroke="#000" stroke-width="1"/>
<line x1="563.55" y1="182.6" x2="563.55" y2="185.2" stroke="#000" stroke-width="1"/>
<line x1="577.02" y1="182.6" x2="577.02" y2="184.2" stroke="#000" stroke-width="1"/>
<line x1="590.5" y1="182.6" x2="590.5" y2="185.2" stroke="#000" stroke-width="1"/>
<text transform="translate(457.5,177.11) scale(0.9000,1)" font-family='"Liberation Sans", sans-serif' font-weight="bold" font-size="10" fill="#000" stroke="#000" stroke-width="0.3" stroke-linejoin="round">-3</text>
<text transform="translate(457.55,160.34) scale(0.9000,1)" font-family='"Liberation Sans", sans-serif' font-weight="bold" font-size="10" fill="#000" stroke="#000" stroke-width="0.3" stroke-linejoin="round">-2</text>
<text transform="translate(457.41,143.47) scale(0.9000,1)" font-family='"Liberation Sans", sans-serif' font-weight="bold" font-size="10" fill="#000" stroke="#000" stroke-width="0.3" stroke-linejoin="round">-1</text>
<text transform="translate(460.56,126.65) scale(0.9000,1)" font-family='"Liberation Sans", sans-serif' font-weight="bold" font-size="10" fill="#000" stroke="#000" stroke-width="0.3" stroke-linejoin="round">0</text>
<text transform="translate(460.43,109.83) scale(0.9000,1)" font-family='"Liberation Sans", sans-serif' font-weight="bold" font-size="10" fill="#000" stroke="#000" stroke-width="0.3" stroke-linejoin="round">1</text>
<text transform="translate(460.56,93.06) scale(0.9000,1)" font-family='"Liberation Sans", sans-serif' font-weight="bold" font-size="10" fill="#000" stroke="#000" stroke-width="0.3" stroke-linejoin="round">2</text>
<text transform="translate(460.52,76.19) scale(0.9000,1)" font-family='"Liberation Sans", sans-serif' font-weight="bold" font-size="10" fill="#000" stroke="#000" stroke-width="0.3" stroke-linejoin="round">3</text>
<text transform="translate(474.02,193.88) scale(0.9700,1)" font-family='"Liberation Sans", sans-serif' font-weight="bold" font-size="10.4" fill="#000" stroke="#000" stroke-width="0.3" stroke-linejoin="round">-1.0</text>
<text transform="translate(500.9,193.88) scale(0.9700,1)" font-family='"Liberation Sans", sans-serif' font-weight="bold" font-size="10.4" fill="#000" stroke="#000" stroke-width="0.3" stroke-linejoin="round">-0.5</text>
<text transform="translate(529.59,193.88) scale(0.9700,1)" font-family='"Liberation Sans", sans-serif' font-weight="bold" font-size="10.4" fill="#000" stroke="#000" stroke-width="0.3" stroke-linejoin="round">0.0</text>
<text transform="translate(556.46,193.88) scale(0.9700,1)" font-family='"Liberation Sans", sans-serif' font-weight="bold" font-size="10.4" fill="#000" stroke="#000" stroke-width="0.3" stroke-linejoin="round">0.5</text>
<text transform="translate(583.39,193.88) scale(0.9700,1)" font-family='"Liberation Sans", sans-serif' font-weight="bold" font-size="10.4" fill="#000" stroke="#000" stroke-width="0.3" stroke-linejoin="round">1.0</text>
<text transform="translate(520.45,206.6) scale(1.1370,1)" font-family='"Liberation Sans", sans-serif' font-weight="bold" font-size="9.13" fill="#000" stroke="#000" stroke-width="0.3" stroke-linejoin="round">V</text>
<text transform="translate(526.79,210.91) scale(1.1901,1)" font-family='"Liberation Sans", sans-serif' font-weight="bold" font-size="9.15" fill="#000" stroke="#000" stroke-width="0.3" stroke-linejoin="round">DS</text>
<text transform="translate(541.9,207.32) scale(0.9639,1)" font-family='"Liberation Sans", sans-serif' font-weight="normal" font-size="10.37" fill="#000">(V)</text>
<text transform="translate(448,155.9) rotate(-90) scale(1.4642,1)" font-family='"Liberation Sans", sans-serif' font-weight="bold" font-size="9.42" fill="#000" stroke="#000" stroke-width="0.3" stroke-linejoin="round">I</text>
<text transform="translate(450.42,152.11) rotate(-90) scale(1.2055,1)" font-family='"Liberation Sans", sans-serif' font-weight="bold" font-size="7.75" fill="#000" stroke="#000" stroke-width="0.3" stroke-linejoin="round">DS</text>
<text transform="translate(448.32,139.07) rotate(-90) scale(1.4107,1)" font-family='"Liberation Sans", sans-serif' font-weight="bold" font-size="8.02" fill="#000" stroke="#000" stroke-width="0.3" stroke-linejoin="round">(μA)</text>
<path d="M482.6,167.5 L483.6,166.28 L484.6,165.15 L485.6,164.07 L486.6,163.02 L487.6,161.98 L488.6,160.93 L489.6,159.88 L490.6,158.83 L491.6,157.76 L492.6,156.68 L493.6,155.6 L494.6,154.51 L495.6,153.42 L496.6,152.33 L497.6,151.23 L498.6,150.14 L499.6,149.04 L500.6,147.95 L501.6,146.87 L502.6,145.8 L503.6,144.74 L504.6,143.7 L505.6,142.68 L506.6,141.67 L507.6,140.69 L508.6,139.72 L509.6,138.78 L510.6,137.86 L511.6,136.96 L512.6,136.08 L513.6,135.22 L514.6,134.39 L515.6,133.57 L516.6,132.79 L517.6,132.03 L518.6,131.3 L519.6,130.6 L520.6,129.94 L521.6,129.3 L522.6,128.71 L523.6,128.14 L524.6,127.61 L525.6,127.1 L526.6,126.62 L527.6,126.16 L528.6,125.71 L529.6,125.28 L530.6,124.86 L531.6,124.45 L532.6,124.04 L533.6,123.63 L534.6,123.23 L535.6,122.82 L536.6,122.41 L537.6,122 L538.6,121.58 L539.6,121.17 L540.6,120.75 L541.6,120.33 L542.6,119.91 L543.6,119.48 L544.6,119.04 L545.6,118.6 L546.6,118.15 L547.6,117.69 L548.6,117.22 L549.6,116.74 L550.6,116.24 L551.6,115.74 L552.6,115.21 L553.6,114.68 L554.6,114.13 L555.6,113.56 L556.6,112.98 L557.6,112.39 L558.6,111.77 L559.6,111.14 L560.6,110.49 L561.6,109.82 L562.6,109.13 L563.6,108.41 L564.6,107.66 L565.6,106.89 L566.6,106.08 L567.6,105.24 L568.6,104.37 L569.6,103.46 L570.6,102.53 L571.6,101.57 L572.6,100.58 L573.6,99.58 L574.6,98.56 L575.6,97.53 L576.6,96.5 L577.6,95.46 L578.6,94.42 L579.6,93.38 L580.6,92.35 L581.6,91.32 L582.6,90.3 L583.6,89.28 L584.6,88.27 L585.6,87.27 L586.6,86.26 L587.6,85.24 L588.6,84.2 L589.6,83.09 L590.6,81.9" fill="none" stroke="#000000" stroke-width="1.6" stroke-linejoin="round" stroke-linecap="round"/>
<path d="M482.6,143 L483.6,142.13 L484.6,141.33 L485.6,140.59 L486.6,139.89 L487.6,139.22 L488.6,138.56 L489.6,137.91 L490.6,137.27 L491.6,136.65 L492.6,136.02 L493.6,135.41 L494.6,134.81 L495.6,134.22 L496.6,133.64 L497.6,133.08 L498.6,132.53 L499.6,131.99 L500.6,131.47 L501.6,130.97 L502.6,130.48 L503.6,130.02 L504.6,129.58 L505.6,129.16 L506.6,128.76 L507.6,128.4 L508.6,128.05 L509.6,127.73 L510.6,127.43 L511.6,127.15 L512.6,126.89 L513.6,126.65 L514.6,126.42 L515.6,126.2 L516.6,126 L517.6,125.81 L518.6,125.63 L519.6,125.45 L520.6,125.29 L521.6,125.14 L522.6,125 L523.6,124.87 L524.6,124.74 L525.6,124.62 L526.6,124.51 L527.6,124.4 L528.6,124.29 L529.6,124.19 L530.6,124.08 L531.6,123.97 L532.6,123.87 L533.6,123.75 L534.6,123.63 L535.6,123.51 L536.6,123.37 L537.6,123.23 L538.6,123.08 L539.6,122.92 L540.6,122.76 L541.6,122.58 L542.6,122.4 L543.6,122.22 L544.6,122.02 L545.6,121.83 L546.6,121.62 L547.6,121.42 L548.6,121.21 L549.6,120.99 L550.6,120.78 L551.6,120.56 L552.6,120.34 L553.6,120.11 L554.6,119.89 L555.6,119.66 L556.6,119.42 L557.6,119.18 L558.6,118.94 L559.6,118.69 L560.6,118.44 L561.6,118.18 L562.6,117.91 L563.6,117.64 L564.6,117.36 L565.6,117.08 L566.6,116.78 L567.6,116.48 L568.6,116.16 L569.6,115.84 L570.6,115.51 L571.6,115.16 L572.6,114.81 L573.6,114.44 L574.6,114.06 L575.6,113.66 L576.6,113.26 L577.6,112.84 L578.6,112.41 L579.6,111.97 L580.6,111.52 L581.6,111.06 L582.6,110.6 L583.6,110.14 L584.6,109.67 L585.6,109.19 L586.6,108.7 L587.6,108.2 L588.6,107.68 L589.6,107.12 L590.6,106.5" fill="none" stroke="#ff0000" stroke-width="2" stroke-linejoin="round" stroke-linecap="round"/>
<path d="M482.6,144.2 L483.6,143.29 L484.6,142.47 L485.6,141.7 L486.6,140.97 L487.6,140.27 L488.6,139.58 L489.6,138.91 L490.6,138.26 L491.6,137.61 L492.6,136.96 L493.6,136.33 L494.6,135.71 L495.6,135.1 L496.6,134.51 L497.6,133.93 L498.6,133.36 L499.6,132.82 L500.6,132.28 L501.6,131.77 L502.6,131.27 L503.6,130.79 L504.6,130.34 L505.6,129.91 L506.6,129.5 L507.6,129.12 L508.6,128.76 L509.6,128.43 L510.6,128.12 L511.6,127.83 L512.6,127.55 L513.6,127.3 L514.6,127.05 L515.6,126.83 L516.6,126.61 L517.6,126.4 L518.6,126.2 L519.6,126.01 L520.6,125.83 L521.6,125.65 L522.6,125.48 L523.6,125.32 L524.6,125.16 L525.6,125.01 L526.6,124.86 L527.6,124.72 L528.6,124.58 L529.6,124.44 L530.6,124.29 L531.6,124.15 L532.6,124 L533.6,123.85 L534.6,123.69 L535.6,123.53 L536.6,123.36 L537.6,123.18 L538.6,122.99 L539.6,122.8 L540.6,122.6 L541.6,122.39 L542.6,122.17 L543.6,121.96 L544.6,121.73 L545.6,121.5 L546.6,121.27 L547.6,121.03 L548.6,120.8 L549.6,120.56 L550.6,120.32 L551.6,120.07 L552.6,119.83 L553.6,119.59 L554.6,119.34 L555.6,119.09 L556.6,118.85 L557.6,118.59 L558.6,118.34 L559.6,118.08 L560.6,117.82 L561.6,117.55 L562.6,117.28 L563.6,117 L564.6,116.71 L565.6,116.42 L566.6,116.11 L567.6,115.8 L568.6,115.48 L569.6,115.14 L570.6,114.8 L571.6,114.44 L572.6,114.07 L573.6,113.69 L574.6,113.29 L575.6,112.88 L576.6,112.46 L577.6,112.02 L578.6,111.57 L579.6,111.11 L580.6,110.64 L581.6,110.17 L582.6,109.69 L583.6,109.2 L584.6,108.71 L585.6,108.21 L586.6,107.7 L587.6,107.18 L588.6,106.63 L589.6,106.04 L590.6,105.4" fill="none" stroke="#0000ff" stroke-width="2" stroke-linejoin="round" stroke-linecap="round"/>
<path d="M482.6,139.8 L483.6,139.02 L484.6,138.31 L485.6,137.65 L486.6,137.02 L487.6,136.42 L488.6,135.84 L489.6,135.26 L490.6,134.7 L491.6,134.16 L492.6,133.61 L493.6,133.07 L494.6,132.54 L495.6,132.02 L496.6,131.52 L497.6,131.03 L498.6,130.55 L499.6,130.09 L500.6,129.64 L501.6,129.21 L502.6,128.8 L503.6,128.4 L504.6,128.03 L505.6,127.69 L506.6,127.36 L507.6,127.07 L508.6,126.79 L509.6,126.54 L510.6,126.31 L511.6,126.1 L512.6,125.9 L513.6,125.73 L514.6,125.56 L515.6,125.41 L516.6,125.26 L517.6,125.13 L518.6,125 L519.6,124.88 L520.6,124.77 L521.6,124.67 L522.6,124.57 L523.6,124.47 L524.6,124.38 L525.6,124.3 L526.6,124.22 L527.6,124.14 L528.6,124.06 L529.6,123.99 L530.6,123.91 L531.6,123.84 L532.6,123.76 L533.6,123.68 L534.6,123.6 L535.6,123.52 L536.6,123.43 L537.6,123.33 L538.6,123.23 L539.6,123.13 L540.6,123.03 L541.6,122.92 L542.6,122.8 L543.6,122.68 L544.6,122.55 L545.6,122.42 L546.6,122.29 L547.6,122.15 L548.6,122 L549.6,121.84 L550.6,121.68 L551.6,121.51 L552.6,121.33 L553.6,121.15 L554.6,120.95 L555.6,120.75 L556.6,120.53 L557.6,120.31 L558.6,120.08 L559.6,119.83 L560.6,119.59 L561.6,119.33 L562.6,119.07 L563.6,118.8 L564.6,118.52 L565.6,118.24 L566.6,117.95 L567.6,117.66 L568.6,117.36 L569.6,117.06 L570.6,116.75 L571.6,116.44 L572.6,116.12 L573.6,115.79 L574.6,115.46 L575.6,115.12 L576.6,114.77 L577.6,114.41 L578.6,114.05 L579.6,113.68 L580.6,113.31 L581.6,112.92 L582.6,112.54 L583.6,112.16 L584.6,111.77 L585.6,111.38 L586.6,110.98 L587.6,110.58 L588.6,110.15 L589.6,109.7 L590.6,109.2" fill="none" stroke="#7a3300" stroke-width="2" stroke-linejoin="round" stroke-linecap="round"/>
<path d="M482.6,142.6 L483.6,141.77 L484.6,141.01 L485.6,140.3 L486.6,139.63 L487.6,138.98 L488.6,138.34 L489.6,137.72 L490.6,137.1 L491.6,136.49 L492.6,135.88 L493.6,135.28 L494.6,134.69 L495.6,134.11 L496.6,133.54 L497.6,132.98 L498.6,132.44 L499.6,131.9 L500.6,131.38 L501.6,130.88 L502.6,130.39 L503.6,129.93 L504.6,129.49 L505.6,129.07 L506.6,128.67 L507.6,128.3 L508.6,127.95 L509.6,127.63 L510.6,127.33 L511.6,127.05 L512.6,126.79 L513.6,126.54 L514.6,126.31 L515.6,126.09 L516.6,125.89 L517.6,125.7 L518.6,125.52 L519.6,125.35 L520.6,125.19 L521.6,125.04 L522.6,124.91 L523.6,124.78 L524.6,124.66 L525.6,124.54 L526.6,124.44 L527.6,124.33 L528.6,124.23 L529.6,124.14 L530.6,124.04 L531.6,123.94 L532.6,123.84 L533.6,123.73 L534.6,123.61 L535.6,123.49 L536.6,123.36 L537.6,123.22 L538.6,123.07 L539.6,122.91 L540.6,122.74 L541.6,122.56 L542.6,122.38 L543.6,122.19 L544.6,121.99 L545.6,121.78 L546.6,121.57 L547.6,121.35 L548.6,121.14 L549.6,120.91 L550.6,120.69 L551.6,120.46 L552.6,120.23 L553.6,120 L554.6,119.76 L555.6,119.52 L556.6,119.27 L557.6,119.03 L558.6,118.77 L559.6,118.52 L560.6,118.25 L561.6,117.98 L562.6,117.71 L563.6,117.42 L564.6,117.13 L565.6,116.84 L566.6,116.53 L567.6,116.21 L568.6,115.89 L569.6,115.55 L570.6,115.21 L571.6,114.85 L572.6,114.48 L573.6,114.1 L574.6,113.7 L575.6,113.3 L576.6,112.88 L577.6,112.44 L578.6,112 L579.6,111.55 L580.6,111.08 L581.6,110.61 L582.6,110.13 L583.6,109.65 L584.6,109.17 L585.6,108.67 L586.6,108.17 L587.6,107.66 L588.6,107.11 L589.6,106.53 L590.6,105.9" fill="none" stroke="#008000" stroke-width="2" stroke-linejoin="round" stroke-linecap="round"/>
<rect x="539.3" y="0.8" width="146.5" height="75.6" stroke="#5a5a5a" stroke-width="1" fill="#fff"/>
<line x1="539.7" y1="9.1" x2="565.7" y2="9.1" stroke="#000000" stroke-width="2.6"/>
<text transform="translate(568.14,12.66) scale(1.0200,1)" font-family='"Liberation Sans", sans-serif' font-weight="bold" font-size="11.5" fill="#000" stroke="#000" stroke-width="0.3" stroke-linejoin="round">before</text>
<line x1="539.7" y1="24.15" x2="565.7" y2="24.15" stroke="#ff0000" stroke-width="2.6"/>
<text transform="translate(568.14,27.71) scale(1.0200,1)" font-family='"Liberation Sans", sans-serif' font-weight="bold" font-size="11.5" fill="#000" stroke="#000" stroke-width="0.3" stroke-linejoin="round">water 1st</text>
<line x1="539.7" y1="39.2" x2="565.7" y2="39.2" stroke="#0000ff" stroke-width="2.6"/>
<text transform="translate(568.14,42.77) scale(1.0200,1)" font-family='"Liberation Sans", sans-serif' font-weight="bold" font-size="11.5" fill="#000" stroke="#000" stroke-width="0.3" stroke-linejoin="round">pump 12h</text>
<line x1="539.7" y1="54.3" x2="565.7" y2="54.3" stroke="#7a3300" stroke-width="2.6"/>
<text transform="translate(568.14,57.86) scale(1.0200,1)" font-family='"Liberation Sans", sans-serif' font-weight="bold" font-size="11.5" fill="#000" stroke="#000" stroke-width="0.3" stroke-linejoin="round">water 2nd</text>
<line x1="539.7" y1="69.4" x2="565.7" y2="69.4" stroke="#008000" stroke-width="2.6"/>
<text transform="translate(568.14,72.97) scale(1.0200,1)" font-family='"Liberation Sans", sans-serif' font-weight="bold" font-size="11.5" fill="#000" stroke="#000" stroke-width="0.3" stroke-linejoin="round">pump 3h and anneal</text>
<line x1="85.7" y1="300" x2="85.7" y2="500.3" stroke="#666666" stroke-width="1.1"/>
<line x1="85.2" y1="499.8" x2="334.18" y2="499.8" stroke="#666666" stroke-width="1.1"/>
<line x1="82.1" y1="499.62" x2="85.7" y2="499.62" stroke="#666666" stroke-width="1.1"/>
<line x1="83.9" y1="476.4" x2="85.7" y2="476.4" stroke="#666666" stroke-width="1.1"/>
<line x1="82.1" y1="466.4" x2="85.7" y2="466.4" stroke="#666666" stroke-width="1.1"/>
<line x1="83.9" y1="443.18" x2="85.7" y2="443.18" stroke="#666666" stroke-width="1.1"/>
<line x1="82.1" y1="433.18" x2="85.7" y2="433.18" stroke="#666666" stroke-width="1.1"/>
<line x1="83.9" y1="409.96" x2="85.7" y2="409.96" stroke="#666666" stroke-width="1.1"/>
<line x1="82.1" y1="399.96" x2="85.7" y2="399.96" stroke="#666666" stroke-width="1.1"/>
<line x1="83.9" y1="376.74" x2="85.7" y2="376.74" stroke="#666666" stroke-width="1.1"/>
<line x1="82.1" y1="366.74" x2="85.7" y2="366.74" stroke="#666666" stroke-width="1.1"/>
<line x1="83.9" y1="343.52" x2="85.7" y2="343.52" stroke="#666666" stroke-width="1.1"/>
<line x1="82.1" y1="333.52" x2="85.7" y2="333.52" stroke="#666666" stroke-width="1.1"/>
<line x1="83.9" y1="310.3" x2="85.7" y2="310.3" stroke="#666666" stroke-width="1.1"/>
<line x1="82.1" y1="300.3" x2="85.7" y2="300.3" stroke="#666666" stroke-width="1.1"/>
<line x1="86" y1="499.8" x2="86" y2="503.8" stroke="#666666" stroke-width="1.1"/>
<line x1="101.48" y1="499.8" x2="101.48" y2="502" stroke="#666666" stroke-width="1.1"/>
<line x1="116.96" y1="499.8" x2="116.96" y2="503.8" stroke="#666666" stroke-width="1.1"/>
<line x1="132.44" y1="499.8" x2="132.44" y2="502" stroke="#666666" stroke-width="1.1"/>
<line x1="147.92" y1="499.8" x2="147.92" y2="503.8" stroke="#666666" stroke-width="1.1"/>
<line x1="163.4" y1="499.8" x2="163.4" y2="502" stroke="#666666" stroke-width="1.1"/>
<line x1="178.88" y1="499.8" x2="178.88" y2="503.8" stroke="#666666" stroke-width="1.1"/>
<line x1="194.36" y1="499.8" x2="194.36" y2="502" stroke="#666666" stroke-width="1.1"/>
<line x1="209.84" y1="499.8" x2="209.84" y2="503.8" stroke="#666666" stroke-width="1.1"/>
<line x1="225.32" y1="499.8" x2="225.32" y2="502" stroke="#666666" stroke-width="1.1"/>
<line x1="240.8" y1="499.8" x2="240.8" y2="503.8" stroke="#666666" stroke-width="1.1"/>
<line x1="256.28" y1="499.8" x2="256.28" y2="502" stroke="#666666" stroke-width="1.1"/>
<line x1="271.76" y1="499.8" x2="271.76" y2="503.8" stroke="#666666" stroke-width="1.1"/>
<line x1="287.24" y1="499.8" x2="287.24" y2="502" stroke="#666666" stroke-width="1.1"/>
<line x1="302.72" y1="499.8" x2="302.72" y2="503.8" stroke="#666666" stroke-width="1.1"/>
<line x1="318.2" y1="499.8" x2="318.2" y2="502" stroke="#666666" stroke-width="1.1"/>
<line x1="333.68" y1="499.8" x2="333.68" y2="503.8" stroke="#666666" stroke-width="1.1"/>
<text transform="translate(74.46,519.81) scale(0.9800,1)" font-family='"Liberation Sans", sans-serif' font-weight="bold" font-size="16.3" fill="#000" stroke="#000" stroke-width="0.36" stroke-linejoin="round">-50</text>
<text transform="translate(105.42,519.81) scale(0.9800,1)" font-family='"Liberation Sans", sans-serif' font-weight="bold" font-size="16.3" fill="#000" stroke="#000" stroke-width="0.36" stroke-linejoin="round">-40</text>
<text transform="translate(136.38,519.81) scale(0.9800,1)" font-family='"Liberation Sans", sans-serif' font-weight="bold" font-size="16.3" fill="#000" stroke="#000" stroke-width="0.36" stroke-linejoin="round">-30</text>
<text transform="translate(167.34,519.81) scale(0.9800,1)" font-family='"Liberation Sans", sans-serif' font-weight="bold" font-size="16.3" fill="#000" stroke="#000" stroke-width="0.36" stroke-linejoin="round">-20</text>
<text transform="translate(198.3,519.81) scale(0.9800,1)" font-family='"Liberation Sans", sans-serif' font-weight="bold" font-size="16.3" fill="#000" stroke="#000" stroke-width="0.36" stroke-linejoin="round">-10</text>
<text transform="translate(236.37,519.81) scale(0.9800,1)" font-family='"Liberation Sans", sans-serif' font-weight="bold" font-size="16.3" fill="#000" stroke="#000" stroke-width="0.36" stroke-linejoin="round">0</text>
<text transform="translate(262.73,519.81) scale(0.9800,1)" font-family='"Liberation Sans", sans-serif' font-weight="bold" font-size="16.3" fill="#000" stroke="#000" stroke-width="0.36" stroke-linejoin="round">10</text>
<text transform="translate(293.89,519.81) scale(0.9800,1)" font-family='"Liberation Sans", sans-serif' font-weight="bold" font-size="16.3" fill="#000" stroke="#000" stroke-width="0.36" stroke-linejoin="round">20</text>
<text transform="translate(324.93,519.81) scale(0.9800,1)" font-family='"Liberation Sans", sans-serif' font-weight="bold" font-size="16.3" fill="#000" stroke="#000" stroke-width="0.36" stroke-linejoin="round">30</text>
<text transform="translate(35.3,504.75) scale(0.9950,1)" font-family='"Liberation Sans", sans-serif' font-weight="bold" font-size="16.6" fill="#000" stroke="#000" stroke-width="0.36" stroke-linejoin="round">1E-11</text>
<text transform="translate(34.64,471.53) scale(0.9950,1)" font-family='"Liberation Sans", sans-serif' font-weight="bold" font-size="16.6" fill="#000" stroke="#000" stroke-width="0.36" stroke-linejoin="round">1E-10</text>
<text transform="translate(34.56,438.31) scale(0.9950,1)" font-family='"Liberation Sans", sans-serif' font-weight="bold" font-size="16.6" fill="#000" stroke="#000" stroke-width="0.36" stroke-linejoin="round">1E-09</text>
<text transform="translate(34.48,405.09) scale(0.9950,1)" font-family='"Liberation Sans", sans-serif' font-weight="bold" font-size="16.6" fill="#000" stroke="#000" stroke-width="0.36" stroke-linejoin="round">1E-08</text>
<text transform="translate(34.64,371.87) scale(0.9950,1)" font-family='"Liberation Sans", sans-serif' font-weight="bold" font-size="16.6" fill="#000" stroke="#000" stroke-width="0.36" stroke-linejoin="round">1E-07</text>
<text transform="translate(34.56,338.65) scale(0.9950,1)" font-family='"Liberation Sans", sans-serif' font-weight="bold" font-size="16.6" fill="#000" stroke="#000" stroke-width="0.36" stroke-linejoin="round">1E-06</text>
<text transform="translate(34.4,305.43) scale(0.9950,1)" font-family='"Liberation Sans", sans-serif' font-weight="bold" font-size="16.6" fill="#000" stroke="#000" stroke-width="0.36" stroke-linejoin="round">1E-05</text>
<text transform="translate(0.01,310.1) scale(1.0202,1)" font-family='"Liberation Serif", serif' font-weight="normal" font-size="23.74" fill="#000" stroke="#000" stroke-width="0.12" stroke-linejoin="round">(c)</text>
<text transform="translate(16.8,419.49) rotate(-90) scale(1.0681,1)" font-family='"Liberation Sans", sans-serif' font-weight="normal" font-size="19.71" fill="#000">I</text>
<text transform="translate(23.99,413.32) rotate(-90) scale(1.0087,1)" font-family='"Liberation Sans", sans-serif' font-weight="normal" font-size="11.41" fill="#000">DS</text>
<text transform="translate(17.2,398.21) rotate(-90) scale(1.0909,1)" font-family='"Liberation Sans", sans-serif' font-weight="normal" font-size="20" fill="#000">(A)</text>
<text transform="translate(185.41,541.8) scale(0.8954,1)" font-family='"Liberation Sans", sans-serif' font-weight="normal" font-size="20.29" fill="#000">V</text>
<text transform="translate(198.62,548.69) scale(1.0840,1)" font-family='"Liberation Sans", sans-serif' font-weight="normal" font-size="10.7" fill="#000">G</text>
<text transform="translate(207.65,541.54) scale(1.0526,1)" font-family='"Liberation Sans", sans-serif' font-weight="normal" font-size="19.79" fill="#000">(V)</text>
<path d="M116.4,481.3 L117.4,481.64 L118.4,481.99 L119.4,482.33 L120.4,482.67 L121.4,483.03 L122.4,483.41 L123.4,483.79 L124.4,484.14 L125.4,484.37 L126.4,484.41 L127.4,484.23 L128.4,483.82 L129.4,483.22 L130.4,482.47 L131.4,481.57 L132.4,480.47 L133.4,479.13 L134.4,477.6 L135.4,475.94 L136.4,474.2 L137.4,472.41 L138.4,470.53 L139.4,468.55 L140.4,466.43 L141.4,464.16 L142.4,461.73 L143.4,459.17 L144.4,456.6 L145.4,454.1 L146.4,451.72 L147.4,449.44 L148.4,447.23 L149.4,445.09 L150.4,443.03 L151.4,441.04 L152.4,439.07 L153.4,437.09 L154.4,435.02 L155.4,432.84 L156.4,430.54 L157.4,428.18 L158.4,425.82 L159.4,423.55 L160.4,421.4 L161.4,419.41 L162.4,417.55 L163.4,415.8 L164.4,414.16 L165.4,412.6 L166.4,411.1 L167.4,409.64 L168.4,408.23 L169.4,406.86 L170.4,405.51 L171.4,404.19 L172.4,402.9 L173.4,401.63 L174.4,400.39 L175.4,399.18 L176.4,397.99 L177.4,396.83 L178.4,395.69 L179.4,394.57 L180.4,393.48 L181.4,392.41 L182.4,391.36 L183.4,390.33 L184.4,389.32 L185.4,388.32 L186.4,387.34 L187.4,386.37 L188.4,385.42 L189.4,384.47 L190.4,383.54 L191.4,382.61 L192.4,381.69 L193.4,380.78 L194.4,379.87 L195.4,378.98 L196.4,378.09 L197.4,377.21 L198.4,376.33 L199.4,375.46 L200.4,374.6 L201.4,373.75 L202.4,372.91 L203.4,372.07 L204.4,371.24 L205.4,370.43 L206.4,369.62 L207.4,368.81 L208.4,368.02 L209.4,367.24 L210.4,366.46 L211.4,365.69 L212.4,364.94 L213.4,364.19 L214.4,363.44 L215.4,362.71 L216.4,361.98 L217.4,361.26 L218.4,360.55 L219.4,359.85 L220.4,359.15 L221.4,358.45 L222.4,357.77 L223.4,357.08 L224.4,356.41 L225.4,355.74 L226.4,355.07 L227.4,354.41 L228.4,353.75 L229.4,353.1 L230.4,352.46 L231.4,351.81 L232.4,351.18 L233.4,350.54 L234.4,349.91 L235.4,349.28 L236.4,348.66 L237.4,348.04 L238.4,347.43 L239.4,346.82 L240.4,346.21 L241.4,345.61 L242.4,345.01 L243.4,344.41 L244.4,343.82 L245.4,343.24 L246.4,342.65 L247.4,342.07 L248.4,341.5 L249.4,340.93 L250.4,340.36 L251.4,339.79 L252.4,339.23 L253.4,338.67 L254.4,338.11 L255.4,337.56 L256.4,337 L257.4,336.45 L258.4,335.9 L259.4,335.35 L260.4,334.8 L261.4,334.25 L262.4,333.71 L263.4,333.16 L264.4,332.61 L265.4,332.06 L266.4,331.52 L267.4,330.97 L268.4,330.42 L269.4,329.87 L270.4,329.31 L271.4,328.76 L272.4,328.21 L273.4,327.66 L274.4,327.11 L275.4,326.56 L276.4,326.01 L277.4,325.46 L278.4,324.92 L279.4,324.38 L280.4,323.85 L281.4,323.32 L282.4,322.8 L283.4,322.28 L284.4,321.78 L285.4,321.28 L286.4,320.79 L287.4,320.3 L288.4,319.83 L289.4,319.36 L290.4,318.9 L291.4,318.45 L292.4,318.01 L293.4,317.57 L294.4,317.14 L295.4,316.71 L296.4,316.29 L297.4,315.88 L298.4,315.47 L299.4,315.07 L300.4,314.67 L301.4,314.27 L302.4,313.88 L303.4,313.5 L304.4,313.11 L305.4,312.74 L306.4,312.36 L307.4,311.99 L308.4,311.62 L309.4,311.26 L310.4,310.9 L311.4,310.54 L312.4,310.18 L313.4,309.83 L314.4,309.48 L315.4,309.14 L316.4,308.8 L317.4,308.46 L318.4,308.11 L319.4,307.78 L320.4,307.44 L321.4,307.1 L322.4,306.77 L323.4,306.44 L324.4,306.1 L325.4,305.77 L326.4,305.45 L327.4,305.12 L328.4,304.8 L329.4,304.49 L330.4,304.18 L331.4,303.89 L332.4,303.61 L333.2,303.5" fill="none" stroke="#000000" stroke-width="2.2" stroke-linejoin="round" stroke-linecap="round"/>
<path d="M116.5,484.6 L117.5,485.16 L118.5,485.45 L119.5,485.53 L120.5,485.33 L121.5,484.78 L122.5,483.97 L123.5,483.11 L124.5,482.33 L125.5,481.63 L126.5,480.97 L127.5,480.35 L128.5,479.8 L129.5,479.33 L130.5,478.99 L131.5,478.82 L132.5,478.9 L133.5,479.24 L134.5,479.65 L135.5,479.77 L136.5,479.31 L137.5,478.18 L138.5,476.55 L139.5,474.62 L140.5,472.48 L141.5,470.12 L142.5,467.58 L143.5,464.96 L144.5,462.39 L145.5,459.89 L146.5,457.43 L147.5,454.92 L148.5,452.29 L149.5,449.49 L150.5,446.54 L151.5,443.53 L152.5,440.56 L153.5,437.66 L154.5,434.86 L155.5,432.16 L156.5,429.6 L157.5,427.19 L158.5,424.94 L159.5,422.84 L160.5,420.87 L161.5,419.02 L162.5,417.26 L163.5,415.57 L164.5,413.94 L165.5,412.39 L166.5,410.9 L167.5,409.47 L168.5,408.12 L169.5,406.84 L170.5,405.64 L171.5,404.51 L172.5,403.45 L173.5,402.44 L174.5,401.48 L175.5,400.56 L176.5,399.67 L177.5,398.8 L178.5,397.96 L179.5,397.13 L180.5,396.31 L181.5,395.5 L182.5,394.71 L183.5,393.93 L184.5,393.16 L185.5,392.42 L186.5,391.69 L187.5,390.98 L188.5,390.29 L189.5,389.61 L190.5,388.95 L191.5,388.3 L192.5,387.67 L193.5,387.05 L194.5,386.45 L195.5,385.87 L196.5,385.29 L197.5,384.73 L198.5,384.18 L199.5,383.64 L200.5,383.1 L201.5,382.58 L202.5,382.06 L203.5,381.55 L204.5,381.05 L205.5,380.55 L206.5,380.06 L207.5,379.58 L208.5,379.1 L209.5,378.63 L210.5,378.16 L211.5,377.69 L212.5,377.23 L213.5,376.77 L214.5,376.32 L215.5,375.86 L216.5,375.41 L217.5,374.96 L218.5,374.52 L219.5,374.07 L220.5,373.62 L221.5,373.18 L222.5,372.73 L223.5,372.29 L224.5,371.84 L225.5,371.39 L226.5,370.94 L227.5,370.49 L228.5,370.03 L229.5,369.58 L230.5,369.12 L231.5,368.65 L232.5,368.18 L233.5,367.71 L234.5,367.24 L235.5,366.76 L236.5,366.27 L237.5,365.78 L238.5,365.29 L239.5,364.79 L240.5,364.29 L241.5,363.78 L242.5,363.27 L243.5,362.75 L244.5,362.23 L245.5,361.71 L246.5,361.19 L247.5,360.66 L248.5,360.13 L249.5,359.6 L250.5,359.06 L251.5,358.53 L252.5,357.99 L253.5,357.45 L254.5,356.91 L255.5,356.37 L256.5,355.82 L257.5,355.28 L258.5,354.73 L259.5,354.19 L260.5,353.64 L261.5,353.09 L262.5,352.55 L263.5,352 L264.5,351.45 L265.5,350.91 L266.5,350.36 L267.5,349.81 L268.5,349.27 L269.5,348.73 L270.5,348.18 L271.5,347.64 L272.5,347.1 L273.5,346.56 L274.5,346.03 L275.5,345.49 L276.5,344.96 L277.5,344.43 L278.5,343.9 L279.5,343.38 L280.5,342.86 L281.5,342.34 L282.5,341.82 L283.5,341.3 L284.5,340.79 L285.5,340.29 L286.5,339.78 L287.5,339.28 L288.5,338.78 L289.5,338.28 L290.5,337.79 L291.5,337.3 L292.5,336.81 L293.5,336.32 L294.5,335.84 L295.5,335.36 L296.5,334.88 L297.5,334.4 L298.5,333.92 L299.5,333.45 L300.5,332.98 L301.5,332.5 L302.5,332.04 L303.5,331.57 L304.5,331.1 L305.5,330.64 L306.5,330.17 L307.5,329.71 L308.5,329.25 L309.5,328.79 L310.5,328.34 L311.5,327.88 L312.5,327.43 L313.5,326.98 L314.5,326.53 L315.5,326.08 L316.5,325.63 L317.5,325.19 L318.5,324.73 L319.5,324.29 L320.5,323.84 L321.5,323.39 L322.5,322.94 L323.5,322.49 L324.5,322.03 L325.5,321.58 L326.5,321.13 L327.5,320.68 L328.5,320.23 L329.5,319.79 L330.5,319.36 L331.5,318.94 L332.5,318.55 L333.2,318.4" fill="none" stroke="#ff0000" stroke-width="2.2" stroke-linejoin="round" stroke-linecap="round"/>
<path d="M86.2,483.2 L87.2,483.01 L88.2,482.8 L89.2,482.59 L90.2,482.36 L91.2,482.12 L92.2,481.86 L93.2,481.59 L94.2,481.3 L95.2,480.99 L96.2,480.66 L97.2,480.32 L98.2,479.95 L99.2,479.55 L100.2,479.06 L101.2,478.45 L102.2,477.63 L103.2,476.56 L104.2,475.21 L105.2,473.56 L106.2,471.6 L107.2,469.39 L108.2,467.04 L109.2,464.62 L110.2,462.13 L111.2,459.48 L112.2,456.69 L113.2,453.87 L114.2,451.26 L115.2,448.99 L116.2,447.04 L117.2,445.29 L118.2,443.62 L119.2,441.95 L120.2,440.25 L121.2,438.51 L122.2,436.78 L123.2,435.09 L124.2,433.47 L125.2,431.95 L126.2,430.54 L127.2,429.25 L128.2,428.05 L129.2,426.92 L130.2,425.82 L131.2,424.76 L132.2,423.71 L133.2,422.68 L134.2,421.67 L135.2,420.69 L136.2,419.73 L137.2,418.81 L138.2,417.93 L139.2,417.09 L140.2,416.29 L141.2,415.53 L142.2,414.82 L143.2,414.14 L144.2,413.5 L145.2,412.88 L146.2,412.29 L147.2,411.72 L148.2,411.17 L149.2,410.64 L150.2,410.13 L151.2,409.63 L152.2,409.14 L153.2,408.66 L154.2,408.2 L155.2,407.75 L156.2,407.32 L157.2,406.9 L158.2,406.49 L159.2,406.09 L160.2,405.71 L161.2,405.32 L162.2,404.94 L163.2,404.55 L164.2,404.16 L165.2,403.77 L166.2,403.36 L167.2,402.96 L168.2,402.54 L169.2,402.12 L170.2,401.7 L171.2,401.27 L172.2,400.83 L173.2,400.38 L174.2,399.92 L175.2,399.45 L176.2,398.96 L177.2,398.45 L178.2,397.92 L179.2,397.37 L180.2,396.79 L181.2,396.2 L182.2,395.59 L183.2,394.97 L184.2,394.34 L185.2,393.71 L186.2,393.07 L187.2,392.44 L188.2,391.82 L189.2,391.21 L190.2,390.6 L191.2,390 L192.2,389.42 L193.2,388.84 L194.2,388.27 L195.2,387.72 L196.2,387.17 L197.2,386.63 L198.2,386.1 L199.2,385.58 L200.2,385.07 L201.2,384.56 L202.2,384.06 L203.2,383.56 L204.2,383.07 L205.2,382.58 L206.2,382.1 L207.2,381.62 L208.2,381.15 L209.2,380.67 L210.2,380.21 L211.2,379.74 L212.2,379.28 L213.2,378.82 L214.2,378.36 L215.2,377.91 L216.2,377.45 L217.2,377 L218.2,376.55 L219.2,376.1 L220.2,375.65 L221.2,375.2 L222.2,374.75 L223.2,374.3 L224.2,373.85 L225.2,373.4 L226.2,372.94 L227.2,372.49 L228.2,372.03 L229.2,371.58 L230.2,371.12 L231.2,370.65 L232.2,370.19 L233.2,369.72 L234.2,369.25 L235.2,368.78 L236.2,368.3 L237.2,367.82 L238.2,367.33 L239.2,366.84 L240.2,366.35 L241.2,365.86 L242.2,365.36 L243.2,364.86 L244.2,364.36 L245.2,363.85 L246.2,363.34 L247.2,362.83 L248.2,362.32 L249.2,361.8 L250.2,361.29 L251.2,360.77 L252.2,360.25 L253.2,359.72 L254.2,359.2 L255.2,358.68 L256.2,358.15 L257.2,357.63 L258.2,357.1 L259.2,356.57 L260.2,356.05 L261.2,355.52 L262.2,354.99 L263.2,354.47 L264.2,353.94 L265.2,353.41 L266.2,352.89 L267.2,352.36 L268.2,351.84 L269.2,351.32 L270.2,350.8 L271.2,350.28 L272.2,349.76 L273.2,349.24 L274.2,348.73 L275.2,348.21 L276.2,347.7 L277.2,347.2 L278.2,346.69 L279.2,346.19 L280.2,345.69 L281.2,345.19 L282.2,344.69 L283.2,344.2 L284.2,343.71 L285.2,343.23 L286.2,342.74 L287.2,342.26 L288.2,341.79 L289.2,341.31 L290.2,340.84 L291.2,340.37 L292.2,339.91 L293.2,339.45 L294.2,338.99 L295.2,338.53 L296.2,338.07 L297.2,337.62 L298.2,337.16 L299.2,336.71 L300.2,336.26 L301.2,335.81 L302.2,335.37 L303.2,334.92 L304.2,334.48 L305.2,334.04 L306.2,333.6 L307.2,333.17 L308.2,332.73 L309.2,332.3 L310.2,331.86 L311.2,331.43 L312.2,331.01 L313.2,330.58 L314.2,330.15 L315.2,329.73 L316.2,329.31 L317.2,328.89 L318.2,328.47 L319.2,328.06 L320.2,327.64 L321.2,327.23 L322.2,326.82 L323.2,326.41 L324.2,326 L325.2,325.59 L326.2,325.18 L327.2,324.78 L328.2,324.38 L329.2,323.98 L330.2,323.58 L331.2,323.18 L332.2,322.79 L333.2,322.4" fill="none" stroke="#0000ff" stroke-width="2.2" stroke-linejoin="round" stroke-linecap="round"/>
<path d="M86.2,473.3 L87.2,473.12 L88.2,472.98 L89.2,472.86 L90.2,472.77 L91.2,472.7 L92.2,472.65 L93.2,472.63 L94.2,472.62 L95.2,472.65 L96.2,472.74 L97.2,472.89 L98.2,473.08 L99.2,473.28 L100.2,473.46 L101.2,473.58 L102.2,473.62 L103.2,473.56 L104.2,473.38 L105.2,473.1 L106.2,472.71 L107.2,472.23 L108.2,471.66 L109.2,471 L110.2,470.18 L111.2,469.06 L112.2,467.49 L113.2,465.52 L114.2,463.38 L115.2,461.32 L116.2,459.38 L117.2,457.58 L118.2,455.93 L119.2,454.43 L120.2,453.06 L121.2,451.77 L122.2,450.49 L123.2,449.21 L124.2,447.93 L125.2,446.64 L126.2,445.37 L127.2,444.14 L128.2,442.95 L129.2,441.82 L130.2,440.75 L131.2,439.72 L132.2,438.73 L133.2,437.76 L134.2,436.81 L135.2,435.88 L136.2,434.94 L137.2,434.02 L138.2,433.1 L139.2,432.2 L140.2,431.33 L141.2,430.49 L142.2,429.69 L143.2,428.91 L144.2,428.16 L145.2,427.43 L146.2,426.72 L147.2,426.02 L148.2,425.34 L149.2,424.66 L150.2,423.99 L151.2,423.31 L152.2,422.64 L153.2,421.96 L154.2,421.27 L155.2,420.57 L156.2,419.87 L157.2,419.16 L158.2,418.46 L159.2,417.75 L160.2,417.04 L161.2,416.34 L162.2,415.64 L163.2,414.95 L164.2,414.27 L165.2,413.59 L166.2,412.93 L167.2,412.27 L168.2,411.63 L169.2,410.99 L170.2,410.36 L171.2,409.73 L172.2,409.12 L173.2,408.51 L174.2,407.9 L175.2,407.3 L176.2,406.71 L177.2,406.12 L178.2,405.54 L179.2,404.95 L180.2,404.38 L181.2,403.8 L182.2,403.24 L183.2,402.67 L184.2,402.11 L185.2,401.56 L186.2,401.01 L187.2,400.46 L188.2,399.92 L189.2,399.38 L190.2,398.84 L191.2,398.3 L192.2,397.77 L193.2,397.24 L194.2,396.72 L195.2,396.2 L196.2,395.68 L197.2,395.16 L198.2,394.64 L199.2,394.13 L200.2,393.62 L201.2,393.11 L202.2,392.6 L203.2,392.1 L204.2,391.6 L205.2,391.09 L206.2,390.59 L207.2,390.09 L208.2,389.59 L209.2,389.1 L210.2,388.6 L211.2,388.11 L212.2,387.61 L213.2,387.12 L214.2,386.62 L215.2,386.13 L216.2,385.64 L217.2,385.14 L218.2,384.65 L219.2,384.16 L220.2,383.66 L221.2,383.17 L222.2,382.67 L223.2,382.18 L224.2,381.68 L225.2,381.19 L226.2,380.69 L227.2,380.19 L228.2,379.69 L229.2,379.19 L230.2,378.69 L231.2,378.18 L232.2,377.68 L233.2,377.17 L234.2,376.66 L235.2,376.15 L236.2,375.64 L237.2,375.12 L238.2,374.6 L239.2,374.08 L240.2,373.56 L241.2,373.04 L242.2,372.51 L243.2,371.98 L244.2,371.45 L245.2,370.91 L246.2,370.37 L247.2,369.83 L248.2,369.29 L249.2,368.75 L250.2,368.2 L251.2,367.66 L252.2,367.11 L253.2,366.56 L254.2,366.01 L255.2,365.45 L256.2,364.9 L257.2,364.34 L258.2,363.79 L259.2,363.23 L260.2,362.68 L261.2,362.12 L262.2,361.56 L263.2,361.01 L264.2,360.45 L265.2,359.9 L266.2,359.34 L267.2,358.79 L268.2,358.23 L269.2,357.68 L270.2,357.13 L271.2,356.58 L272.2,356.03 L273.2,355.48 L274.2,354.93 L275.2,354.39 L276.2,353.85 L277.2,353.31 L278.2,352.77 L279.2,352.23 L280.2,351.7 L281.2,351.17 L282.2,350.65 L283.2,350.12 L284.2,349.6 L285.2,349.08 L286.2,348.57 L287.2,348.05 L288.2,347.55 L289.2,347.04 L290.2,346.54 L291.2,346.03 L292.2,345.54 L293.2,345.04 L294.2,344.55 L295.2,344.05 L296.2,343.56 L297.2,343.07 L298.2,342.59 L299.2,342.1 L300.2,341.62 L301.2,341.14 L302.2,340.66 L303.2,340.18 L304.2,339.71 L305.2,339.23 L306.2,338.76 L307.2,338.29 L308.2,337.82 L309.2,337.35 L310.2,336.88 L311.2,336.42 L312.2,335.96 L313.2,335.49 L314.2,335.03 L315.2,334.58 L316.2,334.12 L317.2,333.66 L318.2,333.21 L319.2,332.76 L320.2,332.31 L321.2,331.86 L322.2,331.41 L323.2,330.97 L324.2,330.52 L325.2,330.08 L326.2,329.64 L327.2,329.2 L328.2,328.76 L329.2,328.32 L330.2,327.89 L331.2,327.46 L332.2,327.03 L333.2,326.6" fill="none" stroke="#7a3300" stroke-width="2.2" stroke-linejoin="round" stroke-linecap="round"/>
<path d="M86.2,477 L87.2,476.79 L88.2,476.47 L89.2,476.07 L90.2,475.56 L91.2,474.96 L92.2,474.41 L93.2,474.01 L94.2,473.78 L95.2,473.61 L96.2,473.39 L97.2,472.99 L98.2,472.29 L99.2,471.28 L100.2,470.02 L101.2,468.58 L102.2,467.03 L103.2,465.46 L104.2,463.95 L105.2,462.5 L106.2,461.06 L107.2,459.54 L108.2,457.9 L109.2,456.16 L110.2,454.38 L111.2,452.65 L112.2,451 L113.2,449.43 L114.2,447.92 L115.2,446.46 L116.2,445.03 L117.2,443.63 L118.2,442.26 L119.2,440.91 L120.2,439.59 L121.2,438.28 L122.2,436.99 L123.2,435.73 L124.2,434.49 L125.2,433.27 L126.2,432.08 L127.2,430.92 L128.2,429.78 L129.2,428.65 L130.2,427.52 L131.2,426.4 L132.2,425.29 L133.2,424.18 L134.2,423.1 L135.2,422.05 L136.2,421.02 L137.2,420.03 L138.2,419.09 L139.2,418.19 L140.2,417.34 L141.2,416.55 L142.2,415.82 L143.2,415.13 L144.2,414.48 L145.2,413.85 L146.2,413.26 L147.2,412.69 L148.2,412.14 L149.2,411.61 L150.2,411.1 L151.2,410.61 L152.2,410.13 L153.2,409.66 L154.2,409.2 L155.2,408.75 L156.2,408.32 L157.2,407.91 L158.2,407.51 L159.2,407.12 L160.2,406.74 L161.2,406.36 L162.2,405.98 L163.2,405.61 L164.2,405.23 L165.2,404.84 L166.2,404.45 L167.2,404.06 L168.2,403.66 L169.2,403.26 L170.2,402.85 L171.2,402.44 L172.2,402.03 L173.2,401.6 L174.2,401.17 L175.2,400.72 L176.2,400.26 L177.2,399.78 L178.2,399.27 L179.2,398.75 L180.2,398.21 L181.2,397.66 L182.2,397.08 L183.2,396.5 L184.2,395.91 L185.2,395.31 L186.2,394.72 L187.2,394.13 L188.2,393.54 L189.2,392.97 L190.2,392.4 L191.2,391.84 L192.2,391.29 L193.2,390.75 L194.2,390.22 L195.2,389.7 L196.2,389.19 L197.2,388.68 L198.2,388.19 L199.2,387.7 L200.2,387.22 L201.2,386.75 L202.2,386.28 L203.2,385.82 L204.2,385.36 L205.2,384.91 L206.2,384.46 L207.2,384.01 L208.2,383.57 L209.2,383.13 L210.2,382.7 L211.2,382.27 L212.2,381.84 L213.2,381.41 L214.2,380.98 L215.2,380.56 L216.2,380.13 L217.2,379.71 L218.2,379.29 L219.2,378.87 L220.2,378.45 L221.2,378.03 L222.2,377.61 L223.2,377.19 L224.2,376.76 L225.2,376.34 L226.2,375.91 L227.2,375.48 L228.2,375.05 L229.2,374.62 L230.2,374.19 L231.2,373.75 L232.2,373.31 L233.2,372.87 L234.2,372.42 L235.2,371.97 L236.2,371.51 L237.2,371.05 L238.2,370.59 L239.2,370.12 L240.2,369.65 L241.2,369.18 L242.2,368.7 L243.2,368.22 L244.2,367.74 L245.2,367.25 L246.2,366.76 L247.2,366.27 L248.2,365.77 L249.2,365.27 L250.2,364.77 L251.2,364.27 L252.2,363.77 L253.2,363.26 L254.2,362.75 L255.2,362.24 L256.2,361.73 L257.2,361.22 L258.2,360.71 L259.2,360.2 L260.2,359.68 L261.2,359.17 L262.2,358.65 L263.2,358.14 L264.2,357.62 L265.2,357.11 L266.2,356.59 L267.2,356.07 L268.2,355.56 L269.2,355.04 L270.2,354.53 L271.2,354.01 L272.2,353.5 L273.2,352.99 L274.2,352.48 L275.2,351.97 L276.2,351.46 L277.2,350.95 L278.2,350.44 L279.2,349.94 L280.2,349.44 L281.2,348.94 L282.2,348.44 L283.2,347.94 L284.2,347.45 L285.2,346.96 L286.2,346.47 L287.2,345.98 L288.2,345.49 L289.2,345.01 L290.2,344.53 L291.2,344.05 L292.2,343.57 L293.2,343.1 L294.2,342.62 L295.2,342.15 L296.2,341.68 L297.2,341.21 L298.2,340.74 L299.2,340.27 L300.2,339.81 L301.2,339.34 L302.2,338.88 L303.2,338.41 L304.2,337.95 L305.2,337.49 L306.2,337.03 L307.2,336.57 L308.2,336.11 L309.2,335.65 L310.2,335.2 L311.2,334.74 L312.2,334.29 L313.2,333.84 L314.2,333.39 L315.2,332.94 L316.2,332.49 L317.2,332.04 L318.2,331.59 L319.2,331.15 L320.2,330.7 L321.2,330.26 L322.2,329.81 L323.2,329.37 L324.2,328.93 L325.2,328.49 L326.2,328.05 L327.2,327.61 L328.2,327.17 L329.2,326.73 L330.2,326.3 L331.2,325.86 L332.2,325.43 L333.2,325" fill="none" stroke="#008000" stroke-width="2.2" stroke-linejoin="round" stroke-linecap="round"/>
<rect x="184.6" y="413.3" width="160.9" height="83.5" stroke="#5a5a5a" stroke-width="1" fill="#fff"/>
<line x1="185.3" y1="422.4" x2="214.2" y2="422.4" stroke="#000000" stroke-width="2.2"/>
<text transform="translate(216.74,426.36) scale(1.1000,1)" font-family='"Liberation Sans", sans-serif' font-weight="bold" font-size="12" fill="#000" stroke="#000" stroke-width="0.3" stroke-linejoin="round">before</text>
<line x1="185.3" y1="439" x2="214.2" y2="439" stroke="#ff0000" stroke-width="2.2"/>
<text transform="translate(216.74,442.96) scale(1.1000,1)" font-family='"Liberation Sans", sans-serif' font-weight="bold" font-size="12" fill="#000" stroke="#000" stroke-width="0.3" stroke-linejoin="round">water 1st</text>
<line x1="185.3" y1="455.6" x2="214.2" y2="455.6" stroke="#0000ff" stroke-width="2.2"/>
<text transform="translate(216.74,459.56) scale(1.1000,1)" font-family='"Liberation Sans", sans-serif' font-weight="bold" font-size="12" fill="#000" stroke="#000" stroke-width="0.3" stroke-linejoin="round">pump 12h</text>
<line x1="185.3" y1="472.2" x2="214.2" y2="472.2" stroke="#7a3300" stroke-width="2.2"/>
<text transform="translate(216.74,476.16) scale(1.1000,1)" font-family='"Liberation Sans", sans-serif' font-weight="bold" font-size="12" fill="#000" stroke="#000" stroke-width="0.3" stroke-linejoin="round">water 2nd</text>
<line x1="185.3" y1="488.9" x2="214.2" y2="488.9" stroke="#008000" stroke-width="2.2"/>
<text transform="translate(216.74,492.86) scale(1.1000,1)" font-family='"Liberation Sans", sans-serif' font-weight="bold" font-size="12" fill="#000" stroke="#000" stroke-width="0.3" stroke-linejoin="round">pump 3h and anneal</text>
<line x1="466.5" y1="300.5" x2="466.5" y2="496.5" stroke="#666666" stroke-width="1.1"/>
<line x1="466" y1="496" x2="709.54" y2="496" stroke="#666666" stroke-width="1.1"/>
<line x1="462.5" y1="495.9" x2="466.5" y2="495.9" stroke="#666666" stroke-width="1.1"/>
<line x1="462.5" y1="466" x2="466.5" y2="466" stroke="#666666" stroke-width="1.1"/>
<line x1="462.5" y1="436.1" x2="466.5" y2="436.1" stroke="#666666" stroke-width="1.1"/>
<line x1="462.5" y1="406.2" x2="466.5" y2="406.2" stroke="#666666" stroke-width="1.1"/>
<line x1="462.5" y1="376.3" x2="466.5" y2="376.3" stroke="#666666" stroke-width="1.1"/>
<line x1="462.5" y1="346.4" x2="466.5" y2="346.4" stroke="#666666" stroke-width="1.1"/>
<line x1="462.5" y1="316.5" x2="466.5" y2="316.5" stroke="#666666" stroke-width="1.1"/>
<line x1="464.5" y1="486.9" x2="466.5" y2="486.9" stroke="#666666" stroke-width="0.9"/>
<line x1="464.5" y1="481.63" x2="466.5" y2="481.63" stroke="#666666" stroke-width="0.9"/>
<line x1="464.5" y1="477.9" x2="466.5" y2="477.9" stroke="#666666" stroke-width="0.9"/>
<line x1="464.5" y1="475" x2="466.5" y2="475" stroke="#666666" stroke-width="0.9"/>
<line x1="464.5" y1="472.63" x2="466.5" y2="472.63" stroke="#666666" stroke-width="0.9"/>
<line x1="464.5" y1="470.63" x2="466.5" y2="470.63" stroke="#666666" stroke-width="0.9"/>
<line x1="464.5" y1="468.9" x2="466.5" y2="468.9" stroke="#666666" stroke-width="0.9"/>
<line x1="464.5" y1="467.37" x2="466.5" y2="467.37" stroke="#666666" stroke-width="0.9"/>
<line x1="464.5" y1="457" x2="466.5" y2="457" stroke="#666666" stroke-width="0.9"/>
<line x1="464.5" y1="451.73" x2="466.5" y2="451.73" stroke="#666666" stroke-width="0.9"/>
<line x1="464.5" y1="448" x2="466.5" y2="448" stroke="#666666" stroke-width="0.9"/>
<line x1="464.5" y1="445.1" x2="466.5" y2="445.1" stroke="#666666" stroke-width="0.9"/>
<line x1="464.5" y1="442.73" x2="466.5" y2="442.73" stroke="#666666" stroke-width="0.9"/>
<line x1="464.5" y1="440.73" x2="466.5" y2="440.73" stroke="#666666" stroke-width="0.9"/>
<line x1="464.5" y1="439" x2="466.5" y2="439" stroke="#666666" stroke-width="0.9"/>
<line x1="464.5" y1="437.47" x2="466.5" y2="437.47" stroke="#666666" stroke-width="0.9"/>
<line x1="464.5" y1="427.1" x2="466.5" y2="427.1" stroke="#666666" stroke-width="0.9"/>
<line x1="464.5" y1="421.83" x2="466.5" y2="421.83" stroke="#666666" stroke-width="0.9"/>
<line x1="464.5" y1="418.1" x2="466.5" y2="418.1" stroke="#666666" stroke-width="0.9"/>
<line x1="464.5" y1="415.2" x2="466.5" y2="415.2" stroke="#666666" stroke-width="0.9"/>
<line x1="464.5" y1="412.83" x2="466.5" y2="412.83" stroke="#666666" stroke-width="0.9"/>
<line x1="464.5" y1="410.83" x2="466.5" y2="410.83" stroke="#666666" stroke-width="0.9"/>
<line x1="464.5" y1="409.1" x2="466.5" y2="409.1" stroke="#666666" stroke-width="0.9"/>
<line x1="464.5" y1="407.57" x2="466.5" y2="407.57" stroke="#666666" stroke-width="0.9"/>
<line x1="464.5" y1="397.2" x2="466.5" y2="397.2" stroke="#666666" stroke-width="0.9"/>
<line x1="464.5" y1="391.93" x2="466.5" y2="391.93" stroke="#666666" stroke-width="0.9"/>
<line x1="464.5" y1="388.2" x2="466.5" y2="388.2" stroke="#666666" stroke-width="0.9"/>
<line x1="464.5" y1="385.3" x2="466.5" y2="385.3" stroke="#666666" stroke-width="0.9"/>
<line x1="464.5" y1="382.93" x2="466.5" y2="382.93" stroke="#666666" stroke-width="0.9"/>
<line x1="464.5" y1="380.93" x2="466.5" y2="380.93" stroke="#666666" stroke-width="0.9"/>
<line x1="464.5" y1="379.2" x2="466.5" y2="379.2" stroke="#666666" stroke-width="0.9"/>
<line x1="464.5" y1="377.67" x2="466.5" y2="377.67" stroke="#666666" stroke-width="0.9"/>
<line x1="464.5" y1="367.3" x2="466.5" y2="367.3" stroke="#666666" stroke-width="0.9"/>
<line x1="464.5" y1="362.03" x2="466.5" y2="362.03" stroke="#666666" stroke-width="0.9"/>
<line x1="464.5" y1="358.3" x2="466.5" y2="358.3" stroke="#666666" stroke-width="0.9"/>
<line x1="464.5" y1="355.4" x2="466.5" y2="355.4" stroke="#666666" stroke-width="0.9"/>
<line x1="464.5" y1="353.03" x2="466.5" y2="353.03" stroke="#666666" stroke-width="0.9"/>
<line x1="464.5" y1="351.03" x2="466.5" y2="351.03" stroke="#666666" stroke-width="0.9"/>
<line x1="464.5" y1="349.3" x2="466.5" y2="349.3" stroke="#666666" stroke-width="0.9"/>
<line x1="464.5" y1="347.77" x2="466.5" y2="347.77" stroke="#666666" stroke-width="0.9"/>
<line x1="464.5" y1="337.4" x2="466.5" y2="337.4" stroke="#666666" stroke-width="0.9"/>
<line x1="464.5" y1="332.13" x2="466.5" y2="332.13" stroke="#666666" stroke-width="0.9"/>
<line x1="464.5" y1="328.4" x2="466.5" y2="328.4" stroke="#666666" stroke-width="0.9"/>
<line x1="464.5" y1="325.5" x2="466.5" y2="325.5" stroke="#666666" stroke-width="0.9"/>
<line x1="464.5" y1="323.13" x2="466.5" y2="323.13" stroke="#666666" stroke-width="0.9"/>
<line x1="464.5" y1="321.13" x2="466.5" y2="321.13" stroke="#666666" stroke-width="0.9"/>
<line x1="464.5" y1="319.4" x2="466.5" y2="319.4" stroke="#666666" stroke-width="0.9"/>
<line x1="464.5" y1="317.87" x2="466.5" y2="317.87" stroke="#666666" stroke-width="0.9"/>
<line x1="464.5" y1="307.5" x2="466.5" y2="307.5" stroke="#666666" stroke-width="0.9"/>
<line x1="464.5" y1="302.23" x2="466.5" y2="302.23" stroke="#666666" stroke-width="0.9"/>
<line x1="466.4" y1="496" x2="466.4" y2="500" stroke="#666666" stroke-width="1.1"/>
<line x1="481.56" y1="496" x2="481.56" y2="498.2" stroke="#666666" stroke-width="1.1"/>
<line x1="496.73" y1="496" x2="496.73" y2="500" stroke="#666666" stroke-width="1.1"/>
<line x1="511.89" y1="496" x2="511.89" y2="498.2" stroke="#666666" stroke-width="1.1"/>
<line x1="527.06" y1="496" x2="527.06" y2="500" stroke="#666666" stroke-width="1.1"/>
<line x1="542.23" y1="496" x2="542.23" y2="498.2" stroke="#666666" stroke-width="1.1"/>
<line x1="557.39" y1="496" x2="557.39" y2="500" stroke="#666666" stroke-width="1.1"/>
<line x1="572.55" y1="496" x2="572.55" y2="498.2" stroke="#666666" stroke-width="1.1"/>
<line x1="587.72" y1="496" x2="587.72" y2="500" stroke="#666666" stroke-width="1.1"/>
<line x1="602.88" y1="496" x2="602.88" y2="498.2" stroke="#666666" stroke-width="1.1"/>
<line x1="618.05" y1="496" x2="618.05" y2="500" stroke="#666666" stroke-width="1.1"/>
<line x1="633.21" y1="496" x2="633.21" y2="498.2" stroke="#666666" stroke-width="1.1"/>
<line x1="648.38" y1="496" x2="648.38" y2="500" stroke="#666666" stroke-width="1.1"/>
<line x1="663.54" y1="496" x2="663.54" y2="498.2" stroke="#666666" stroke-width="1.1"/>
<line x1="678.71" y1="496" x2="678.71" y2="500" stroke="#666666" stroke-width="1.1"/>
<line x1="693.88" y1="496" x2="693.88" y2="498.2" stroke="#666666" stroke-width="1.1"/>
<line x1="709.04" y1="496" x2="709.04" y2="500" stroke="#666666" stroke-width="1.1"/>
<text transform="translate(455.16,515.66) scale(0.9850,1)" font-family='"Liberation Sans", sans-serif' font-weight="bold" font-size="15.8" fill="#000" stroke="#000" stroke-width="0.35" stroke-linejoin="round">-50</text>
<text transform="translate(485.49,515.66) scale(0.9850,1)" font-family='"Liberation Sans", sans-serif' font-weight="bold" font-size="15.8" fill="#000" stroke="#000" stroke-width="0.35" stroke-linejoin="round">-40</text>
<text transform="translate(515.82,515.66) scale(0.9850,1)" font-family='"Liberation Sans", sans-serif' font-weight="bold" font-size="15.8" fill="#000" stroke="#000" stroke-width="0.35" stroke-linejoin="round">-30</text>
<text transform="translate(546.15,515.66) scale(0.9850,1)" font-family='"Liberation Sans", sans-serif' font-weight="bold" font-size="15.8" fill="#000" stroke="#000" stroke-width="0.35" stroke-linejoin="round">-20</text>
<text transform="translate(576.48,515.66) scale(0.9850,1)" font-family='"Liberation Sans", sans-serif' font-weight="bold" font-size="15.8" fill="#000" stroke="#000" stroke-width="0.35" stroke-linejoin="round">-10</text>
<text transform="translate(613.73,515.66) scale(0.9850,1)" font-family='"Liberation Sans", sans-serif' font-weight="bold" font-size="15.8" fill="#000" stroke="#000" stroke-width="0.35" stroke-linejoin="round">0</text>
<text transform="translate(639.59,515.66) scale(0.9850,1)" font-family='"Liberation Sans", sans-serif' font-weight="bold" font-size="15.8" fill="#000" stroke="#000" stroke-width="0.35" stroke-linejoin="round">10</text>
<text transform="translate(670.11,515.66) scale(0.9850,1)" font-family='"Liberation Sans", sans-serif' font-weight="bold" font-size="15.8" fill="#000" stroke="#000" stroke-width="0.35" stroke-linejoin="round">20</text>
<text transform="translate(700.52,515.66) scale(0.9850,1)" font-family='"Liberation Sans", sans-serif' font-weight="bold" font-size="15.8" fill="#000" stroke="#000" stroke-width="0.35" stroke-linejoin="round">30</text>
<text transform="translate(416.91,500.23) scale(1.0100,1)" font-family='"Liberation Sans", sans-serif' font-weight="bold" font-size="15.8" fill="#000" stroke="#000" stroke-width="0.35" stroke-linejoin="round">1E-12</text>
<text transform="translate(417.55,470.25) scale(1.0100,1)" font-family='"Liberation Sans", sans-serif' font-weight="bold" font-size="15.8" fill="#000" stroke="#000" stroke-width="0.35" stroke-linejoin="round">1E-11</text>
<text transform="translate(416.91,440.35) scale(1.0100,1)" font-family='"Liberation Sans", sans-serif' font-weight="bold" font-size="15.8" fill="#000" stroke="#000" stroke-width="0.35" stroke-linejoin="round">1E-10</text>
<text transform="translate(416.83,410.45) scale(1.0100,1)" font-family='"Liberation Sans", sans-serif' font-weight="bold" font-size="15.8" fill="#000" stroke="#000" stroke-width="0.35" stroke-linejoin="round">1E-09</text>
<text transform="translate(416.75,380.55) scale(1.0100,1)" font-family='"Liberation Sans", sans-serif' font-weight="bold" font-size="15.8" fill="#000" stroke="#000" stroke-width="0.35" stroke-linejoin="round">1E-08</text>
<text transform="translate(416.91,350.65) scale(1.0100,1)" font-family='"Liberation Sans", sans-serif' font-weight="bold" font-size="15.8" fill="#000" stroke="#000" stroke-width="0.35" stroke-linejoin="round">1E-07</text>
<text transform="translate(416.83,320.75) scale(1.0100,1)" font-family='"Liberation Sans", sans-serif' font-weight="bold" font-size="15.8" fill="#000" stroke="#000" stroke-width="0.35" stroke-linejoin="round">1E-06</text>
<text transform="translate(381.78,324.03) scale(1.0126,1)" font-family='"Liberation Serif", serif' font-weight="normal" font-size="24.51" fill="#000" stroke="#000" stroke-width="0.12" stroke-linejoin="round">(d)</text>
<text transform="translate(403.5,417.89) rotate(-90) scale(1.0760,1)" font-family='"Liberation Sans", sans-serif' font-weight="normal" font-size="19.57" fill="#000">I</text>
<text transform="translate(410.68,410.56) rotate(-90) scale(0.8950,1)" font-family='"Liberation Sans", sans-serif' font-weight="normal" font-size="11.97" fill="#000">DS</text>
<text transform="translate(403.7,395.71) rotate(-90) scale(1.0124,1)" font-family='"Liberation Sans", sans-serif' font-weight="normal" font-size="20" fill="#000">(A)</text>
<text transform="translate(564.61,540.3) scale(0.9963,1)" font-family='"Liberation Sans", sans-serif' font-weight="normal" font-size="18.7" fill="#000">V</text>
<text transform="translate(577.34,547.21) scale(1.1972,1)" font-family='"Liberation Sans", sans-serif' font-weight="normal" font-size="9.44" fill="#000">G</text>
<text transform="translate(586.54,540.34) scale(0.9732,1)" font-family='"Liberation Sans", sans-serif' font-weight="normal" font-size="19.79" fill="#000">(V)</text>
<path d="M514.8,487.4 L515.03,485.91 L515.27,484.43 L515.5,482.94 L515.73,481.45 L515.97,479.96 L516.2,478.48 L516.43,476.99 L516.67,475.5 L516.9,474.01 L517.13,472.53 L517.37,471.04 L517.6,469.55 L517.83,468.07 L518.07,466.58 L518.3,465.09 L518.53,463.6 L518.79,462.12 L519.09,460.65 L519.41,459.18 L519.75,457.71 L520.08,456.24 L520.41,454.77 L520.74,453.3 L521.07,451.83 L521.4,450.36 L521.73,448.9 L522.06,447.43 L522.38,445.96 L522.65,444.48 L522.88,442.99 L523.11,441.5 L523.34,440.01 L523.56,438.52 L523.79,437.04 L524.02,435.55 L524.25,434.06 L524.47,432.57 L524.7,431.08 L524.93,429.59 L525.15,428.11 L525.38,426.62 L525.62,425.13 L525.88,423.65 L526.17,422.17 L526.48,420.7 L526.81,419.24 L527.16,417.77 L527.51,416.31 L527.88,414.85 L528.24,413.39 L528.61,411.93 L528.97,410.47 L529.34,409.01 L529.71,407.55 L530.08,406.09 L530.45,404.63 L530.82,403.17 L531.2,401.71 L531.58,400.26 L531.96,398.8 L532.35,397.35 L532.74,395.89 L533.13,394.44 L533.53,392.99 L533.92,391.53 L534.33,390.08 L534.73,388.63 L535.15,387.19 L535.57,385.74 L536,384.3 L536.45,382.86 L536.9,381.43 L537.36,380 L537.84,378.57 L538.33,377.15 L538.84,375.73 L539.36,374.32 L539.9,372.92 L540.45,371.52 L541.02,370.13 L541.61,368.75 L542.22,367.38 L542.84,366.01 L543.49,364.66 L544.15,363.31 L544.84,361.99 L545.57,360.68 L546.33,359.39 L547.12,358.13 L547.96,356.9 L548.84,355.71 L549.76,354.54 L550.73,353.41 L551.73,352.32 L552.78,351.27 L553.87,350.26 L554.99,349.28 L556.15,348.34 L557.33,347.42 L558.53,346.53 L559.76,345.67 L560.99,344.82 L562.25,344 L563.52,343.2 L564.8,342.42 L566.09,341.66 L567.4,340.92 L568.72,340.21 L570.05,339.51 L571.4,338.83 L572.74,338.17 L574.1,337.52 L575.46,336.88 L576.83,336.25 L578.2,335.64 L579.58,335.04 L580.97,334.45 L582.35,333.86 L583.74,333.29 L585.13,332.72 L586.53,332.15 L587.92,331.58 L589.32,331.02 L590.72,330.46 L592.12,329.9 L593.51,329.34 L594.91,328.78 L596.31,328.22 L597.71,327.66 L599.1,327.11 L600.5,326.55 L601.9,325.99 L603.3,325.43 L604.7,324.88 L606.1,324.33 L607.5,323.78 L608.9,323.24 L610.31,322.7 L611.72,322.17 L613.13,321.66 L614.55,321.16 L615.97,320.67 L617.4,320.19 L618.83,319.72 L620.26,319.26 L621.7,318.81 L623.14,318.37 L624.58,317.93 L626.02,317.49 L627.46,317.05 L628.9,316.62 L630.34,316.19 L631.78,315.76 L633.23,315.33 L634.67,314.91 L636.12,314.49 L637.57,314.08 L639.02,313.68 L640.47,313.28 L641.92,312.89 L643.38,312.51 L644.84,312.14 L646.3,311.77 L647.76,311.4 L649.22,311.04 L650.68,310.68 L652.14,310.32 L653.6,309.96 L655.06,309.6 L656.53,309.25 L657.99,308.9 L659.46,308.55 L660.92,308.21 L662.39,307.87 L663.86,307.54 L665.33,307.21 L666.8,306.89 L668.27,306.58 L669.74,306.28 L671.22,305.97 L672.69,305.67 L674.17,305.38 L675.64,305.08 L677.13,304.78 L678.6,304.49 L680.07,304.2 L681.61,303.89 L683.03,303.61 L684.5,303.31 L686.16,302.98 L687.46,302.72 L689.21,302.37 L690.73,302.07 L691.89,301.84 L693.73,301.47 L694.1,301.4" fill="none" stroke="#000000" stroke-width="2.3" stroke-linejoin="round" stroke-linecap="round"/>
<path d="M518.6,464 L518.84,462.51 L519.09,461.02 L519.33,459.54 L519.57,458.05 L519.81,456.56 L520.06,455.07 L520.3,453.58 L520.54,452.1 L520.79,450.61 L521.03,449.12 L521.27,447.63 L521.51,446.15 L521.76,444.66 L522,443.17 L522.24,441.68 L522.47,440.19 L522.67,438.7 L522.86,437.2 L523.04,435.71 L523.23,434.21 L523.41,432.71 L523.6,431.22 L523.78,429.72 L523.96,428.22 L524.15,426.73 L524.33,425.23 L524.52,423.74 L524.7,422.24 L524.89,420.74 L525.09,419.25 L525.29,417.75 L525.49,416.26 L525.7,414.77 L525.91,413.27 L526.12,411.78 L526.33,410.29 L526.55,408.8 L526.78,407.31 L527.03,405.83 L527.29,404.35 L527.59,402.87 L527.91,401.41 L528.26,399.95 L528.63,398.49 L529.03,397.05 L529.46,395.61 L529.9,394.17 L530.37,392.74 L530.85,391.32 L531.35,389.89 L531.86,388.48 L532.39,387.07 L532.94,385.67 L533.51,384.29 L534.11,382.91 L534.74,381.56 L535.41,380.23 L536.11,378.93 L536.87,377.66 L537.68,376.45 L538.55,375.28 L539.48,374.17 L540.48,373.12 L541.55,372.13 L542.67,371.19 L543.84,370.29 L545.05,369.44 L546.29,368.61 L547.56,367.81 L548.84,367.03 L550.13,366.26 L551.43,365.51 L552.74,364.77 L554.06,364.03 L555.38,363.31 L556.71,362.6 L558.04,361.89 L559.38,361.2 L560.72,360.52 L562.07,359.84 L563.42,359.17 L564.76,358.5 L566.11,357.83 L567.45,357.14 L568.79,356.45 L570.12,355.75 L571.44,355.03 L572.76,354.3 L574.07,353.56 L575.38,352.82 L576.69,352.07 L578,351.33 L579.32,350.6 L580.64,349.87 L581.96,349.16 L583.29,348.45 L584.63,347.75 L585.97,347.07 L587.31,346.38 L588.66,345.71 L590.01,345.03 L591.36,344.36 L592.71,343.69 L594.06,343.03 L595.41,342.36 L596.77,341.7 L598.13,341.04 L599.48,340.39 L600.84,339.74 L602.2,339.09 L603.57,338.44 L604.93,337.8 L606.3,337.16 L607.66,336.52 L609.03,335.89 L610.4,335.27 L611.77,334.65 L613.15,334.04 L614.53,333.44 L615.92,332.86 L617.32,332.29 L618.72,331.74 L620.12,331.2 L621.53,330.67 L622.95,330.15 L624.36,329.64 L625.79,329.13 L627.21,328.64 L628.63,328.15 L630.06,327.67 L631.49,327.2 L632.93,326.74 L634.37,326.3 L635.81,325.87 L637.26,325.45 L638.71,325.05 L640.16,324.65 L641.62,324.27 L643.08,323.89 L644.54,323.51 L646,323.14 L647.46,322.78 L648.93,322.42 L650.39,322.06 L651.86,321.71 L653.32,321.37 L654.79,321.03 L656.26,320.7 L657.73,320.37 L659.21,320.05 L660.68,319.73 L662.15,319.41 L663.63,319.1 L665.1,318.8 L666.58,318.5 L668.06,318.2 L669.54,317.92 L671.02,317.65 L672.51,317.38 L673.99,317.13 L675.48,316.88 L676.97,316.64 L678.45,316.4 L679.98,316.16 L681.49,315.92 L682.92,315.71 L684.41,315.48 L685.9,315.25 L687.39,315.02 L688.88,314.8 L690.37,314.57 L691.86,314.34 L693.35,314.11 L694.1,314" fill="none" stroke="#ff0000" stroke-width="2.3" stroke-linejoin="round" stroke-linecap="round"/>
<path d="M481.5,492.9 L481.81,491.43 L482.12,489.96 L482.43,488.48 L482.74,487.01 L483.05,485.54 L483.36,484.07 L483.67,482.6 L483.98,481.12 L484.24,479.64 L484.44,478.15 L484.63,476.66 L484.81,475.17 L485,473.68 L485.18,472.18 L485.37,470.69 L485.55,469.2 L485.74,467.7 L485.92,466.21 L486.1,464.72 L486.29,463.23 L486.47,461.73 L486.66,460.24 L486.84,458.75 L487.02,457.25 L487.19,455.76 L487.37,454.27 L487.54,452.77 L487.71,451.28 L487.89,449.78 L488.06,448.29 L488.23,446.79 L488.41,445.3 L488.58,443.81 L488.77,442.31 L489,440.83 L489.27,439.35 L489.55,437.87 L489.82,436.39 L490.09,434.91 L490.37,433.43 L490.64,431.95 L490.92,430.48 L491.21,429 L491.54,427.53 L491.9,426.08 L492.28,424.62 L492.68,423.17 L493.08,421.72 L493.49,420.28 L493.9,418.83 L494.31,417.38 L494.71,415.93 L495.12,414.48 L495.52,413.03 L495.92,411.58 L496.32,410.13 L496.73,408.68 L497.14,407.24 L497.56,405.8 L498,404.36 L498.46,402.93 L498.95,401.52 L499.46,400.11 L499.99,398.71 L500.54,397.31 L501.12,395.93 L501.72,394.55 L502.34,393.19 L502.98,391.84 L503.65,390.5 L504.35,389.17 L505.07,387.86 L505.82,386.57 L506.61,385.3 L507.43,384.06 L508.28,382.83 L509.16,381.62 L510.07,380.44 L511.01,379.28 L511.98,378.14 L512.98,377.04 L514.01,375.97 L515.08,374.94 L516.19,373.95 L517.32,373 L518.5,372.08 L519.7,371.2 L520.92,370.34 L522.17,369.52 L523.44,368.73 L524.73,367.97 L526.03,367.23 L527.35,366.52 L528.68,365.84 L530.03,365.17 L531.39,364.53 L532.75,363.9 L534.12,363.28 L535.5,362.68 L536.88,362.08 L538.26,361.49 L539.64,360.9 L541.02,360.3 L542.4,359.7 L543.78,359.1 L545.15,358.49 L546.52,357.88 L547.89,357.27 L549.27,356.66 L550.65,356.06 L552.03,355.47 L553.42,354.9 L554.81,354.34 L556.21,353.8 L557.61,353.27 L559.02,352.75 L560.44,352.23 L561.85,351.72 L563.27,351.21 L564.68,350.7 L566.09,350.18 L567.49,349.64 L568.89,349.1 L570.29,348.54 L571.68,347.97 L573.06,347.39 L574.44,346.79 L575.82,346.19 L577.19,345.58 L578.57,344.96 L579.94,344.35 L581.31,343.73 L582.68,343.11 L584.05,342.49 L585.42,341.88 L586.8,341.26 L588.17,340.65 L589.54,340.03 L590.92,339.42 L592.29,338.81 L593.67,338.21 L595.05,337.61 L596.43,337.01 L597.81,336.42 L599.2,335.83 L600.58,335.25 L601.97,334.67 L603.36,334.1 L604.75,333.53 L606.15,332.96 L607.54,332.4 L608.94,331.84 L610.34,331.29 L611.74,330.73 L613.14,330.19 L614.54,329.65 L615.95,329.11 L617.36,328.59 L618.77,328.07 L620.18,327.56 L621.6,327.05 L623.01,326.55 L624.43,326.05 L625.85,325.56 L627.28,325.07 L628.7,324.59 L630.13,324.12 L631.56,323.66 L633,323.21 L634.43,322.78 L635.88,322.36 L637.32,321.95 L638.77,321.55 L640.23,321.17 L641.68,320.79 L643.14,320.42 L644.6,320.06 L646.06,319.7 L647.52,319.34 L648.98,318.99 L650.45,318.65 L651.91,318.31 L653.38,317.98 L654.85,317.65 L656.32,317.34 L657.79,317.02 L659.26,316.71 L660.73,316.41 L662.21,316.11 L663.68,315.81 L665.16,315.52 L666.63,315.23 L668.11,314.95 L669.59,314.68 L671.07,314.42 L672.55,314.16 L674.03,313.91 L675.52,313.66 L677,313.43 L678.49,313.19 L679.97,312.96 L681.46,312.73 L682.95,312.5 L684.43,312.27 L685.92,312.05 L687.64,311.79 L689.18,311.55 L690.71,311.32 L692.22,311.09 L693.73,310.86 L694.1,310.8" fill="none" stroke="#0000ff" stroke-width="2.3" stroke-linejoin="round" stroke-linecap="round"/>
<path d="M481.5,474.7 L482.55,473.62 L483.61,472.54 L484.66,471.47 L485.58,470.33 L486.09,468.99 L486.3,467.51 L486.47,466.01 L486.64,464.51 L486.81,463.01 L486.98,461.52 L487.15,460.02 L487.32,458.52 L487.49,457.02 L487.66,455.53 L487.83,454.03 L488,452.53 L488.17,451.03 L488.34,449.53 L488.51,448.04 L488.73,446.56 L489.25,445.23 L490.2,444.11 L491.29,443.08 L492.48,442.17 L493.73,441.51 L494.99,441.6 L496.2,442.18 L497.05,441.96 L497.49,440.72 L497.84,439.26 L498.19,437.8 L498.53,436.33 L498.88,434.86 L499.23,433.39 L499.57,431.93 L499.92,430.46 L500.27,428.99 L500.62,427.53 L500.97,426.06 L501.32,424.6 L501.69,423.14 L502.08,421.68 L502.51,420.24 L502.97,418.81 L503.46,417.39 L503.97,415.97 L504.49,414.55 L505.01,413.14 L505.55,411.73 L506.08,410.32 L506.62,408.92 L507.17,407.51 L507.73,406.12 L508.31,404.73 L508.91,403.36 L509.55,402 L510.21,400.66 L510.9,399.33 L511.62,398.01 L512.37,396.71 L513.15,395.43 L513.95,394.17 L514.79,392.93 L515.66,391.72 L516.56,390.54 L517.5,389.38 L518.48,388.27 L519.5,387.19 L520.56,386.15 L521.66,385.14 L522.78,384.16 L523.94,383.21 L525.11,382.27 L526.3,381.35 L527.5,380.45 L528.7,379.55 L529.92,378.65 L531.13,377.76 L532.36,376.88 L533.58,376 L534.81,375.14 L536.05,374.28 L537.3,373.44 L538.55,372.6 L539.82,371.79 L541.09,370.99 L542.38,370.21 L543.67,369.44 L544.97,368.69 L546.28,367.94 L547.6,367.2 L548.91,366.47 L550.23,365.74 L551.55,365.02 L552.87,364.29 L554.2,363.57 L555.52,362.84 L556.84,362.12 L558.16,361.39 L559.48,360.67 L560.81,359.95 L562.13,359.23 L563.46,358.52 L564.79,357.81 L566.12,357.11 L567.46,356.42 L568.81,355.75 L570.16,355.08 L571.52,354.43 L572.88,353.79 L574.25,353.16 L575.62,352.54 L576.99,351.91 L578.36,351.28 L579.72,350.65 L581.09,350.01 L582.45,349.36 L583.8,348.71 L585.16,348.04 L586.51,347.37 L587.85,346.7 L589.2,346.02 L590.55,345.35 L591.9,344.67 L593.24,344 L594.6,343.33 L595.95,342.67 L597.31,342.02 L598.67,341.37 L600.03,340.73 L601.4,340.1 L602.77,339.47 L604.14,338.85 L605.52,338.24 L606.9,337.62 L608.28,337.02 L609.66,336.42 L611.04,335.82 L612.43,335.23 L613.82,334.65 L615.22,334.08 L616.61,333.52 L618.02,332.98 L619.43,332.44 L620.84,331.91 L622.25,331.39 L623.67,330.88 L625.09,330.38 L626.51,329.88 L627.93,329.39 L629.36,328.9 L630.79,328.43 L632.22,327.96 L633.66,327.51 L635.1,327.08 L636.55,326.65 L638,326.24 L639.45,325.84 L640.9,325.45 L642.36,325.07 L643.82,324.69 L645.28,324.32 L646.74,323.95 L648.2,323.59 L649.67,323.23 L651.13,322.88 L652.6,322.53 L654.07,322.18 L655.53,321.84 L657,321.5 L658.47,321.17 L659.95,320.84 L661.42,320.52 L662.89,320.2 L664.36,319.89 L665.84,319.58 L667.32,319.28 L668.79,318.99 L670.27,318.71 L671.76,318.44 L673.24,318.18 L674.73,317.93 L676.21,317.69 L677.72,317.45 L679.19,317.22 L680.68,316.99 L682.17,316.77 L683.66,316.55 L685.15,316.33 L686.64,316.11 L688.14,315.88 L689.63,315.66 L691.12,315.44 L692.61,315.22 L694.1,315 L694.1,315" fill="none" stroke="#7a3300" stroke-width="2.3" stroke-linejoin="round" stroke-linecap="round"/>
<path d="M481.5,486.5 L481.97,487.93 L482.44,489.36 L482.91,490.79 L483.38,492.21 L483.84,493.52 L484.21,493.86 L484.46,492.81 L484.67,491.33 L484.88,489.84 L485.09,488.36 L485.3,486.87 L485.51,485.38 L485.72,483.89 L485.93,482.4 L486.14,480.91 L486.35,479.42 L486.56,477.93 L486.76,476.44 L486.97,474.95 L487.18,473.46 L487.39,471.97 L487.6,470.48 L487.81,468.99 L488.02,467.5 L488.22,466.01 L488.43,464.52 L488.64,463.03 L488.83,461.54 L489,460.05 L489.17,458.55 L489.33,457.06 L489.5,455.56 L489.66,454.07 L489.82,452.57 L489.99,451.08 L490.15,449.58 L490.32,448.09 L490.51,446.61 L490.96,445.22 L491.75,443.98 L492.62,442.76 L493.29,441.45 L493.66,440.01 L493.94,438.54 L494.23,437.06 L494.51,435.58 L494.79,434.11 L495.08,432.63 L495.36,431.15 L495.64,429.67 L495.91,428.2 L496.18,426.71 L496.43,425.23 L496.68,423.75 L496.93,422.27 L497.17,420.78 L497.42,419.3 L497.67,417.81 L497.92,416.33 L498.2,414.86 L498.5,413.39 L498.82,411.92 L499.18,410.47 L499.57,409.02 L499.98,407.57 L500.42,406.14 L500.88,404.71 L501.37,403.29 L501.88,401.88 L502.4,400.47 L502.95,399.08 L503.51,397.69 L504.1,396.31 L504.71,394.94 L505.34,393.58 L505.99,392.23 L506.67,390.9 L507.39,389.59 L508.14,388.3 L508.92,387.03 L509.74,385.79 L510.6,384.57 L511.5,383.38 L512.43,382.22 L513.39,381.08 L514.39,379.97 L515.42,378.89 L516.48,377.85 L517.57,376.83 L518.69,375.84 L519.83,374.88 L521,373.94 L522.18,373.02 L523.38,372.13 L524.6,371.26 L525.84,370.42 L527.09,369.6 L528.36,368.81 L529.65,368.05 L530.95,367.32 L532.27,366.62 L533.61,365.94 L534.95,365.28 L536.31,364.63 L537.67,364 L539.04,363.37 L540.41,362.76 L541.79,362.15 L543.16,361.55 L544.55,360.96 L545.93,360.38 L547.32,359.8 L548.71,359.23 L550.11,358.67 L551.5,358.11 L552.9,357.56 L554.3,357 L555.7,356.46 L557.1,355.91 L558.5,355.37 L559.91,354.83 L561.31,354.29 L562.71,353.74 L564.12,353.2 L565.52,352.65 L566.91,352.1 L568.31,351.54 L569.7,350.97 L571.09,350.39 L572.47,349.81 L573.86,349.22 L575.23,348.62 L576.61,348.01 L577.99,347.41 L579.36,346.8 L580.74,346.19 L582.11,345.58 L583.49,344.97 L584.86,344.36 L586.24,343.75 L587.61,343.14 L588.99,342.53 L590.36,341.92 L591.74,341.32 L593.12,340.72 L594.5,340.11 L595.88,339.52 L597.26,338.92 L598.64,338.33 L600.02,337.74 L601.41,337.15 L602.79,336.57 L604.18,335.99 L605.57,335.41 L606.96,334.84 L608.35,334.26 L609.74,333.69 L611.14,333.13 L612.53,332.57 L613.93,332.01 L615.33,331.47 L616.73,330.93 L618.14,330.39 L619.55,329.87 L620.96,329.35 L622.37,328.84 L623.79,328.33 L625.21,327.83 L626.63,327.34 L628.05,326.85 L629.47,326.36 L630.9,325.89 L632.33,325.43 L633.76,324.98 L635.2,324.55 L636.64,324.13 L638.09,323.72 L639.54,323.32 L640.99,322.93 L642.44,322.55 L643.9,322.18 L645.36,321.81 L646.82,321.44 L648.28,321.09 L649.74,320.73 L651.2,320.39 L652.67,320.05 L654.13,319.72 L655.6,319.39 L657.07,319.08 L658.54,318.76 L660.02,318.46 L661.49,318.15 L662.96,317.85 L664.44,317.56 L665.91,317.27 L667.39,316.99 L668.87,316.71 L670.35,316.44 L671.83,316.17 L673.31,315.91 L674.79,315.66 L676.27,315.42 L677.76,315.17 L679.24,314.94 L680.73,314.7 L682.29,314.45 L683.7,314.23 L685.18,314 L686.67,313.76 L688.16,313.53 L689.64,313.3 L691.13,313.07 L692.98,312.78 L694.1,312.6 L694.1,312.6" fill="none" stroke="#008000" stroke-width="2.3" stroke-linejoin="round" stroke-linecap="round"/>
<rect x="542.9" y="396.3" width="154.7" height="86" stroke="#5a5a5a" stroke-width="1" fill="#fff"/>
<line x1="541.9" y1="404.8" x2="573.8" y2="404.8" stroke="#000000" stroke-width="2.7"/>
<text transform="translate(576.8,408.4) scale(1.1250,1)" font-family='"Liberation Sans", sans-serif' font-weight="bold" font-size="10.9" fill="#000" stroke="#000" stroke-width="0.3" stroke-linejoin="round">before</text>
<line x1="541.9" y1="422.1" x2="573.8" y2="422.1" stroke="#ff0000" stroke-width="2.7"/>
<text transform="translate(576.8,425.7) scale(1.1250,1)" font-family='"Liberation Sans", sans-serif' font-weight="bold" font-size="10.9" fill="#000" stroke="#000" stroke-width="0.3" stroke-linejoin="round">water 1st</text>
<line x1="541.9" y1="439.6" x2="573.8" y2="439.6" stroke="#0000ff" stroke-width="2.7"/>
<text transform="translate(576.8,443.2) scale(1.1250,1)" font-family='"Liberation Sans", sans-serif' font-weight="bold" font-size="10.9" fill="#000" stroke="#000" stroke-width="0.3" stroke-linejoin="round">pump 12h</text>
<line x1="541.9" y1="457.2" x2="573.8" y2="457.2" stroke="#7a3300" stroke-width="2.7"/>
<text transform="translate(576.8,460.8) scale(1.1250,1)" font-family='"Liberation Sans", sans-serif' font-weight="bold" font-size="10.9" fill="#000" stroke="#000" stroke-width="0.3" stroke-linejoin="round">water 2nd</text>
<line x1="541.9" y1="474.6" x2="573.8" y2="474.6" stroke="#008000" stroke-width="2.7"/>
<text transform="translate(576.8,478.2) scale(1.1250,1)" font-family='"Liberation Sans", sans-serif' font-weight="bold" font-size="10.9" fill="#000" stroke="#000" stroke-width="0.3" stroke-linejoin="round">pump 3h and anneal</text>
</svg>
</body></html>
